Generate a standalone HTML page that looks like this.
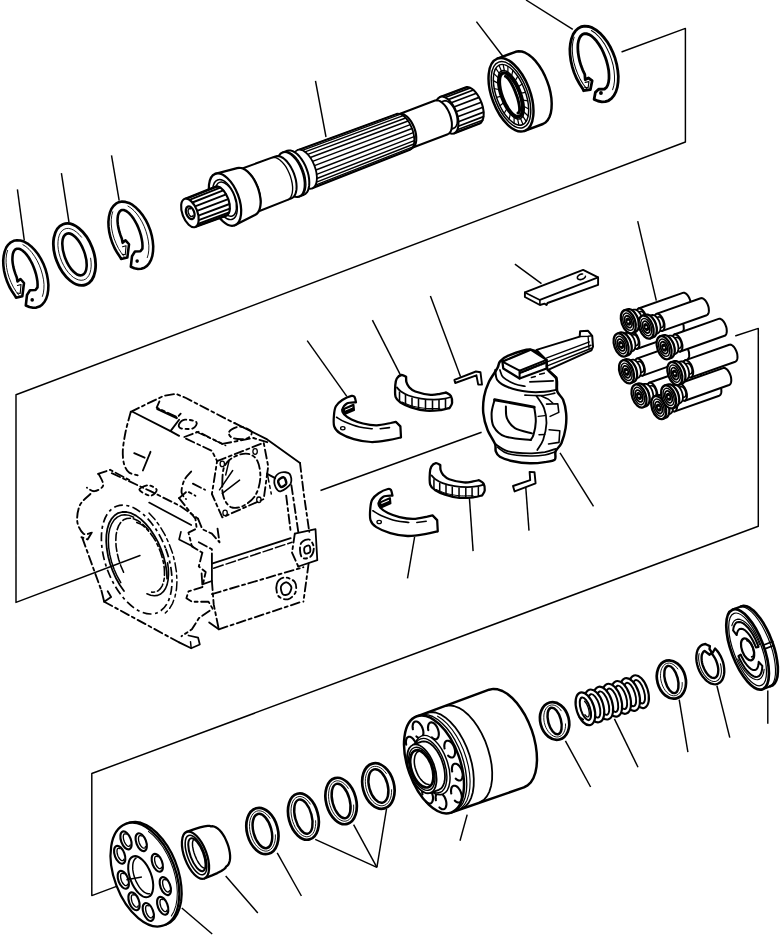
<!DOCTYPE html>
<html><head><meta charset="utf-8"><title>Pump exploded view</title>
<style>html,body{margin:0;padding:0;background:#fff;}svg{display:block;}</style>
</head><body>
<svg width="782" height="935" viewBox="0 0 782 935">
<rect width="782" height="935" fill="#fff"/>
<path d="M622.1 51.7 L685.4 28.4 L685.4 142.0 L16.0 394.8 L16.0 602.4 L140.0 555.5" fill="none" stroke="#000" stroke-width="1.46" stroke-linejoin="round" stroke-linecap="round" />
<path d="M735.8 335.7 L758.3 328.4 L758.3 526.3 L91.8 773.5 L91.8 895.6 L116.5 886.4" fill="none" stroke="#000" stroke-width="1.46" stroke-linejoin="round" stroke-linecap="round" />
<line x1="126.4" y1="879.8" x2="141.9" y2="877.0" stroke="#000" stroke-width="1.46"/>
<line x1="320.5" y1="490.5" x2="481.6" y2="432.2" stroke="#000" stroke-width="1.46"/>
<line x1="17.4" y1="189.4" x2="24.3" y2="240.3" stroke="#000" stroke-width="1.46"/>
<line x1="61.4" y1="173.2" x2="69.0" y2="222.4" stroke="#000" stroke-width="1.46"/>
<line x1="111.5" y1="155.3" x2="119.2" y2="200.6" stroke="#000" stroke-width="1.46"/>
<line x1="315.5" y1="80.9" x2="326.0" y2="137.0" stroke="#000" stroke-width="1.46"/>
<line x1="476.4" y1="21.6" x2="503.0" y2="56.5" stroke="#000" stroke-width="1.46"/>
<line x1="526.0" y1="0.0" x2="572.8" y2="29.3" stroke="#000" stroke-width="1.46"/>
<line x1="307.2" y1="340.6" x2="346.8" y2="396.4" stroke="#000" stroke-width="1.46"/>
<line x1="372.4" y1="320.2" x2="400.5" y2="375.1" stroke="#000" stroke-width="1.46"/>
<line x1="430.4" y1="296.1" x2="460.6" y2="376.7" stroke="#000" stroke-width="1.46"/>
<line x1="514.9" y1="264.1" x2="541.5" y2="283.6" stroke="#000" stroke-width="1.46"/>
<line x1="637.7" y1="221.2" x2="656.3" y2="300.6" stroke="#000" stroke-width="1.46"/>
<line x1="560.0" y1="452.8" x2="593.5" y2="506.3" stroke="#000" stroke-width="1.46"/>
<line x1="414.6" y1="537.0" x2="407.5" y2="578.4" stroke="#000" stroke-width="1.46"/>
<line x1="469.4" y1="497.7" x2="473.1" y2="551.1" stroke="#000" stroke-width="1.46"/>
<line x1="525.7" y1="486.4" x2="529.0" y2="530.6" stroke="#000" stroke-width="1.46"/>
<line x1="181.8" y1="908.0" x2="212.2" y2="934.0" stroke="#000" stroke-width="1.46"/>
<line x1="225.7" y1="875.9" x2="257.8" y2="913.0" stroke="#000" stroke-width="1.46"/>
<line x1="277.2" y1="852.8" x2="301.4" y2="896.0" stroke="#000" stroke-width="1.46"/>
<line x1="315.2" y1="839.4" x2="376.9" y2="867.3" stroke="#000" stroke-width="1.46"/>
<line x1="353.6" y1="824.7" x2="376.9" y2="867.3" stroke="#000" stroke-width="1.46"/>
<line x1="386.5" y1="809.0" x2="376.9" y2="867.3" stroke="#000" stroke-width="1.46"/>
<line x1="467.2" y1="814.6" x2="460.0" y2="840.7" stroke="#000" stroke-width="1.46"/>
<line x1="565.4" y1="740.8" x2="590.6" y2="787.0" stroke="#000" stroke-width="1.46"/>
<line x1="614.4" y1="718.9" x2="638.0" y2="767.2" stroke="#000" stroke-width="1.46"/>
<line x1="679.2" y1="699.6" x2="687.9" y2="752.1" stroke="#000" stroke-width="1.46"/>
<line x1="716.9" y1="685.7" x2="729.8" y2="737.6" stroke="#000" stroke-width="1.46"/>
<line x1="767.8" y1="690.5" x2="767.8" y2="723.7" stroke="#000" stroke-width="1.46"/>
<ellipse cx="74.5" cy="254.4" rx="19.0" ry="32.3" transform="rotate(-20.7 74.5 254.4)" fill="#fff" stroke="#000" stroke-width="2.80"/>
<ellipse cx="74.5" cy="254.4" rx="10.0" ry="22.1" transform="rotate(-20.7 74.5 254.4)" fill="none" stroke="#000" stroke-width="2.58"/>
<path d="M90.6 258.2 L91.1 262.2 L91.2 266.1 L90.8 269.6 L90.1 272.7 L88.9 275.4 L87.4 277.5 L85.6 279.1 L83.5 280.0 L81.1 280.3 L78.6 279.9 L76.0 278.9 L73.3 277.3 L70.7 275.0 L68.2 272.3 L65.8 269.1 L63.7 265.5 L61.8 261.7 L60.3 257.6 L59.1 253.5 L58.3 249.4 L57.9 245.5 L58.0 241.7 L58.4 238.3 L59.3 235.2 L60.5 232.7 L62.1 230.7 L64.1 229.3 L66.2 228.5 L68.6 228.4 L71.2 229.0 L73.8 230.2 L76.4 232.0 L79.0 234.3 L81.5 237.2" fill="none" stroke="#000" stroke-width="0.90" stroke-linejoin="round" stroke-linecap="round" />
<ellipse cx="262.4" cy="831.0" rx="15.4" ry="23.6" transform="rotate(-15.0 262.4 831.0)" fill="#fff" stroke="#000" stroke-width="2.69"/>
<ellipse cx="262.4" cy="831.0" rx="9.0" ry="17.6" transform="rotate(-15.0 262.4 831.0)" fill="none" stroke="#000" stroke-width="2.46"/>
<path d="M275.4 834.8 L275.4 837.9 L275.0 840.8 L274.4 843.4 L273.4 845.8 L272.2 847.8 L270.7 849.3 L269.0 850.4 L267.2 851.0 L265.2 851.1 L263.2 850.6 L261.1 849.7 L259.1 848.3 L257.1 846.5 L255.3 844.3 L253.7 841.7 L252.3 838.9 L251.2 835.8 L250.3 832.7 L249.7 829.5 L249.5 826.3 L249.6 823.3 L250.0 820.4 L250.8 817.8 L251.8 815.6 L253.1 813.7 L254.6 812.3 L256.3 811.3 L258.2 810.8 L260.2 810.9 L262.3 811.4 L264.3 812.5 L266.3 814.0 L268.2 815.9 L270.0 818.3" fill="none" stroke="#000" stroke-width="0.90" stroke-linejoin="round" stroke-linecap="round" />
<ellipse cx="303.4" cy="816.6" rx="14.7" ry="23.6" transform="rotate(-15.0 303.4 816.6)" fill="#fff" stroke="#000" stroke-width="2.69"/>
<ellipse cx="303.4" cy="816.6" rx="8.3" ry="17.6" transform="rotate(-15.0 303.4 816.6)" fill="none" stroke="#000" stroke-width="2.46"/>
<path d="M315.6 820.7 L315.7 823.7 L315.4 826.6 L314.8 829.3 L314.0 831.6 L312.8 833.6 L311.4 835.1 L309.9 836.1 L308.1 836.7 L306.2 836.8 L304.3 836.3 L302.3 835.4 L300.4 833.9 L298.5 832.1 L296.8 829.8 L295.2 827.3 L293.9 824.4 L292.7 821.4 L291.9 818.2 L291.3 815.0 L291.0 811.8 L291.1 808.8 L291.4 806.0 L292.1 803.4 L293.0 801.1 L294.2 799.3 L295.7 797.9 L297.3 797.0 L299.1 796.5 L301.0 796.6 L302.9 797.2 L304.9 798.3 L306.8 799.8 L308.6 801.8 L310.3 804.1" fill="none" stroke="#000" stroke-width="0.90" stroke-linejoin="round" stroke-linecap="round" />
<ellipse cx="341.1" cy="801.0" rx="15.0" ry="23.7" transform="rotate(-15.0 341.1 801.0)" fill="#fff" stroke="#000" stroke-width="2.69"/>
<ellipse cx="341.1" cy="801.0" rx="8.6" ry="17.7" transform="rotate(-15.0 341.1 801.0)" fill="none" stroke="#000" stroke-width="2.46"/>
<path d="M353.6 805.0 L353.7 808.0 L353.4 811.0 L352.8 813.6 L351.9 816.0 L350.7 817.9 L349.3 819.5 L347.6 820.5 L345.9 821.1 L343.9 821.2 L342.0 820.7 L340.0 819.8 L338.0 818.4 L336.1 816.5 L334.3 814.3 L332.7 811.7 L331.3 808.8 L330.2 805.8 L329.3 802.6 L328.8 799.4 L328.5 796.2 L328.6 793.2 L329.0 790.3 L329.6 787.7 L330.6 785.5 L331.9 783.6 L333.3 782.2 L335.0 781.3 L336.8 780.8 L338.8 780.9 L340.7 781.5 L342.7 782.5 L344.7 784.1 L346.6 786.0 L348.3 788.4" fill="none" stroke="#000" stroke-width="0.90" stroke-linejoin="round" stroke-linecap="round" />
<ellipse cx="378.4" cy="786.0" rx="15.6" ry="23.2" transform="rotate(-15.0 378.4 786.0)" fill="#fff" stroke="#000" stroke-width="2.69"/>
<ellipse cx="378.4" cy="786.0" rx="9.3" ry="17.2" transform="rotate(-15.0 378.4 786.0)" fill="none" stroke="#000" stroke-width="2.46"/>
<path d="M391.6 789.7 L391.5 792.7 L391.2 795.6 L390.5 798.2 L389.5 800.5 L388.2 802.5 L386.7 804.0 L384.9 805.1 L383.0 805.7 L381.0 805.8 L379.0 805.4 L376.9 804.5 L374.8 803.2 L372.9 801.4 L371.0 799.2 L369.4 796.7 L368.0 793.9 L366.9 791.0 L366.0 787.9 L365.5 784.7 L365.3 781.6 L365.4 778.6 L365.9 775.8 L366.7 773.3 L367.7 771.1 L369.1 769.2 L370.7 767.8 L372.4 766.8 L374.4 766.4 L376.4 766.4 L378.5 766.9 L380.6 767.9 L382.6 769.4 L384.5 771.2 L386.3 773.5" fill="none" stroke="#000" stroke-width="0.90" stroke-linejoin="round" stroke-linecap="round" />
<ellipse cx="554.6" cy="721.0" rx="14.3" ry="19.1" transform="rotate(-15.0 554.6 721.0)" fill="#fff" stroke="#000" stroke-width="2.69"/>
<ellipse cx="554.6" cy="721.0" rx="6.4" ry="13.7" transform="rotate(-15.0 554.6 721.0)" fill="none" stroke="#000" stroke-width="2.46"/>
<path d="M565.5 723.9 L565.5 726.3 L565.2 728.7 L564.6 730.8 L563.7 732.7 L562.7 734.3 L561.4 735.6 L559.9 736.4 L558.4 736.9 L556.7 737.0 L555.0 736.7 L553.2 736.0 L551.6 734.9 L549.9 733.5 L548.4 731.7 L547.1 729.7 L545.9 727.5 L545.0 725.1 L544.3 722.5 L543.9 720.0 L543.8 717.5 L543.9 715.0 L544.3 712.7 L544.9 710.7 L545.8 708.9 L546.9 707.3 L548.3 706.2 L549.8 705.4 L551.4 705.0 L553.0 705.0 L554.8 705.4 L556.5 706.2 L558.2 707.4 L559.8 708.9 L561.2 710.8" fill="none" stroke="#000" stroke-width="0.90" stroke-linejoin="round" stroke-linecap="round" />
<ellipse cx="671.4" cy="679.5" rx="14.2" ry="19.5" transform="rotate(-15.0 671.4 679.5)" fill="#fff" stroke="#000" stroke-width="2.69"/>
<ellipse cx="671.4" cy="679.5" rx="6.4" ry="14.0" transform="rotate(-15.0 671.4 679.5)" fill="none" stroke="#000" stroke-width="2.46"/>
<path d="M682.2 682.5 L682.2 685.0 L681.9 687.4 L681.3 689.5 L680.5 691.5 L679.4 693.1 L678.2 694.3 L676.7 695.2 L675.2 695.7 L673.5 695.8 L671.8 695.5 L670.0 694.8 L668.4 693.7 L666.7 692.2 L665.2 690.4 L663.9 688.3 L662.7 686.0 L661.8 683.5 L661.1 681.0 L660.6 678.4 L660.5 675.8 L660.6 673.3 L660.9 671.0 L661.6 668.8 L662.5 667.0 L663.6 665.5 L664.9 664.3 L666.4 663.5 L668.0 663.1 L669.6 663.1 L671.4 663.5 L673.1 664.4 L674.8 665.6 L676.4 667.2 L677.8 669.0" fill="none" stroke="#000" stroke-width="0.90" stroke-linejoin="round" stroke-linecap="round" />
<g transform="translate(2.20 239.20) scale(1.000 1.000) translate(-2.20 -239.20)">
<path d="M25.8 305.5 L29.4 307.0 L33.0 307.8 L36.3 307.6 L39.4 306.6 L42.1 304.7 L44.4 302.0 L46.2 298.6 L47.5 294.6 L48.2 290.0 L48.4 285.0 L47.9 279.8 L46.9 274.3 L45.4 268.9 L43.3 263.6 L40.8 258.6 L37.9 254.0 L34.6 249.9 L31.2 246.4 L27.6 243.6 L24.0 241.6 L20.4 240.5 L16.9 240.2 L13.7 240.8 L10.8 242.3 L8.3 244.6 L6.2 247.6 L4.7 251.4 L3.7 255.7 L3.2 260.5 L3.4 265.6 L4.1 271.0 L5.4 276.4 L7.2 281.8 L9.5 287.0 L12.3 291.8 L15.3 296.2 L16.0 297.8 L22.3 296.3 L24.0 283.0 L20.5 279.0 L17.5 281.5 L16.8 277.5 L15.4 273.9 L14.2 270.2 L13.3 266.6 L12.7 263.1 L12.4 259.8 L12.5 256.8 L12.8 254.2 L13.5 252.0 L14.4 250.4 L15.6 249.2 L17.0 248.7 L18.7 248.7 L20.5 249.3 L22.4 250.5 L24.4 252.2 L26.4 254.4 L28.4 257.0 L30.2 260.0 L32.0 263.3 L33.5 266.8 L34.9 270.5 L36.0 274.1 L36.8 277.8 L37.4 281.2 L37.6 284.5 L37.5 287.4 L35.5 290.0 L30.0 290.3 L27.0 295.0 Z" fill="#fff" stroke="#000" stroke-width="2.58" stroke-linejoin="round" stroke-linecap="round" />
<path d="M42.4 296.4 L43.4 292.9 L43.9 288.9 L44.0 284.5 L43.5 279.8 L42.5 274.9 L41.1 270.0 L39.3 265.2 L37.1 260.6 L34.6 256.4 L31.9 252.6 L29.0 249.3 L25.9 246.6 L22.9 244.7" fill="none" stroke="#000" stroke-width="0.90" stroke-linejoin="round" stroke-linecap="round" />
<path d="M7.6 250.4 L6.6 254.0 L6.1 258.2 L6.1 262.7 L6.6 267.6 L7.6 272.6 L9.1 277.6 L11.1 282.5 L13.4 287.2 L16.1 291.5 L18.9 295.3" fill="none" stroke="#000" stroke-width="0.90" stroke-linejoin="round" stroke-linecap="round" />
<circle cx="32.2" cy="299.9" r="1.8" fill="#000"/>
<path d="M17.5 285.5 L21.0 284.5 L20.2 293.5 L17.2 293.0" fill="none" stroke="#000" stroke-width="1.12" stroke-linejoin="round" stroke-linecap="round" />
</g>
<g transform="translate(107.40 200.60) scale(0.992 0.997) translate(-2.20 -239.20)">
<path d="M25.8 305.5 L29.4 307.0 L33.0 307.8 L36.3 307.6 L39.4 306.6 L42.1 304.7 L44.4 302.0 L46.2 298.6 L47.5 294.6 L48.2 290.0 L48.4 285.0 L47.9 279.8 L46.9 274.3 L45.4 268.9 L43.3 263.6 L40.8 258.6 L37.9 254.0 L34.6 249.9 L31.2 246.4 L27.6 243.6 L24.0 241.6 L20.4 240.5 L16.9 240.2 L13.7 240.8 L10.8 242.3 L8.3 244.6 L6.2 247.6 L4.7 251.4 L3.7 255.7 L3.2 260.5 L3.4 265.6 L4.1 271.0 L5.4 276.4 L7.2 281.8 L9.5 287.0 L12.3 291.8 L15.3 296.2 L16.0 297.8 L22.3 296.3 L24.0 283.0 L20.5 279.0 L17.5 281.5 L16.8 277.5 L15.4 273.9 L14.2 270.2 L13.3 266.6 L12.7 263.1 L12.4 259.8 L12.5 256.8 L12.8 254.2 L13.5 252.0 L14.4 250.4 L15.6 249.2 L17.0 248.7 L18.7 248.7 L20.5 249.3 L22.4 250.5 L24.4 252.2 L26.4 254.4 L28.4 257.0 L30.2 260.0 L32.0 263.3 L33.5 266.8 L34.9 270.5 L36.0 274.1 L36.8 277.8 L37.4 281.2 L37.6 284.5 L37.5 287.4 L35.5 290.0 L30.0 290.3 L27.0 295.0 Z" fill="#fff" stroke="#000" stroke-width="2.58" stroke-linejoin="round" stroke-linecap="round" />
<path d="M42.4 296.4 L43.4 292.9 L43.9 288.9 L44.0 284.5 L43.5 279.8 L42.5 274.9 L41.1 270.0 L39.3 265.2 L37.1 260.6 L34.6 256.4 L31.9 252.6 L29.0 249.3 L25.9 246.6 L22.9 244.7" fill="none" stroke="#000" stroke-width="0.90" stroke-linejoin="round" stroke-linecap="round" />
<path d="M7.6 250.4 L6.6 254.0 L6.1 258.2 L6.1 262.7 L6.6 267.6 L7.6 272.6 L9.1 277.6 L11.1 282.5 L13.4 287.2 L16.1 291.5 L18.9 295.3" fill="none" stroke="#000" stroke-width="0.90" stroke-linejoin="round" stroke-linecap="round" />
<circle cx="32.2" cy="299.9" r="1.8" fill="#000"/>
<path d="M17.5 285.5 L21.0 284.5 L20.2 293.5 L17.2 293.0" fill="none" stroke="#000" stroke-width="1.12" stroke-linejoin="round" stroke-linecap="round" />
</g>
<g transform="translate(568.80 25.00) scale(1.072 1.121) translate(-2.20 -239.20)">
<path d="M25.8 305.5 L29.4 307.0 L33.0 307.8 L36.3 307.6 L39.4 306.6 L42.1 304.7 L44.4 302.0 L46.2 298.6 L47.5 294.6 L48.2 290.0 L48.4 285.0 L47.9 279.8 L46.9 274.3 L45.4 268.9 L43.3 263.6 L40.8 258.6 L37.9 254.0 L34.6 249.9 L31.2 246.4 L27.6 243.6 L24.0 241.6 L20.4 240.5 L16.9 240.2 L13.7 240.8 L10.8 242.3 L8.3 244.6 L6.2 247.6 L4.7 251.4 L3.7 255.7 L3.2 260.5 L3.4 265.6 L4.1 271.0 L5.4 276.4 L7.2 281.8 L9.5 287.0 L12.3 291.8 L15.3 296.2 L16.0 297.8 L22.3 296.9 L24.0 288.9 L20.5 286.5 L17.5 288.0 L17.1 283.2 L15.2 279.4 L13.6 275.4 L12.3 271.3 L11.4 267.2 L10.8 263.3 L10.6 259.6 L10.7 256.2 L11.3 253.2 L12.2 250.8 L13.4 248.9 L15.0 247.6 L16.8 247.0 L18.8 247.0 L21.1 247.7 L23.4 249.0 L25.7 251.0 L28.1 253.5 L30.3 256.5 L32.5 259.9 L34.4 263.6 L36.1 267.6 L37.5 271.6 L38.6 275.7 L39.4 279.7 L39.7 283.5 L39.7 287.0 L39.3 290.2 L38.5 292.8 L37.4 294.9 L35.5 296.3 L30.0 296.5 L27.0 299.3 Z" fill="#fff" stroke="#000" stroke-width="2.58" stroke-linejoin="round" stroke-linecap="round" />
<path d="M43.1 296.9 L44.2 293.3 L44.8 289.2 L44.8 284.7 L44.4 279.9 L43.5 274.9 L42.0 269.9 L40.2 265.0 L37.9 260.4 L35.4 256.0 L32.5 252.1 L29.5 248.8 L26.4 246.1 L23.2 244.1" fill="none" stroke="#000" stroke-width="0.90" stroke-linejoin="round" stroke-linecap="round" />
<path d="M7.2 250.1 L6.1 253.8 L5.5 258.1 L5.5 262.7 L6.0 267.7 L7.0 272.8 L8.6 278.0 L10.6 283.0 L12.9 287.7 L15.7 292.1 L18.7 296.0" fill="none" stroke="#000" stroke-width="0.90" stroke-linejoin="round" stroke-linecap="round" />
<circle cx="32.2" cy="299.9" r="1.8" fill="#000"/>
<path d="M17.5 290.4 L21.0 289.8 L20.2 295.2 L17.2 294.9" fill="none" stroke="#000" stroke-width="1.12" stroke-linejoin="round" stroke-linecap="round" />
</g>
<path d="M440.1 97.0 L465.3 87.4 L465.3 87.4 L466.8 87.1 L468.4 87.3 L470.2 87.8 L472.0 88.9 L473.8 90.3 L475.5 92.1 L477.2 94.3 L478.7 96.7 L480.1 99.4 L481.3 102.2 L482.3 105.1 L483.0 108.0 L483.5 110.8 L483.7 113.6 L483.6 116.1 L483.2 118.4 L482.5 120.3 L481.6 121.9 L480.5 123.1 L479.1 123.9 L479.1 123.9 L453.9 133.5" fill="#fff" stroke="#000" stroke-width="2.02" stroke-linejoin="round" stroke-linecap="round" />
<path d="M442.1 96.7 L467.3 87.1" fill="none" stroke="#000" stroke-width="1.68" stroke-linejoin="round" stroke-linecap="round" />
<path d="M445.1 97.5 L470.3 87.9" fill="none" stroke="#000" stroke-width="1.68" stroke-linejoin="round" stroke-linecap="round" />
<path d="M448.2 99.6 L473.4 90.0" fill="none" stroke="#000" stroke-width="1.68" stroke-linejoin="round" stroke-linecap="round" />
<path d="M451.2 102.8 L476.4 93.3" fill="none" stroke="#000" stroke-width="1.68" stroke-linejoin="round" stroke-linecap="round" />
<path d="M453.9 107.0 L479.1 97.4" fill="none" stroke="#000" stroke-width="1.68" stroke-linejoin="round" stroke-linecap="round" />
<path d="M456.1 111.8 L481.3 102.2" fill="none" stroke="#000" stroke-width="1.68" stroke-linejoin="round" stroke-linecap="round" />
<path d="M457.6 116.8 L482.9 107.2" fill="none" stroke="#000" stroke-width="1.68" stroke-linejoin="round" stroke-linecap="round" />
<path d="M458.4 121.7 L483.6 112.1" fill="none" stroke="#000" stroke-width="1.68" stroke-linejoin="round" stroke-linecap="round" />
<path d="M458.3 126.2 L483.5 116.6" fill="none" stroke="#000" stroke-width="1.68" stroke-linejoin="round" stroke-linecap="round" />
<path d="M457.3 129.8 L482.6 120.2" fill="none" stroke="#000" stroke-width="1.68" stroke-linejoin="round" stroke-linecap="round" />
<path d="M455.6 132.4 L480.9 122.8" fill="none" stroke="#000" stroke-width="1.68" stroke-linejoin="round" stroke-linecap="round" />
<ellipse cx="447.0" cy="115.2" rx="9.8" ry="19.5" transform="rotate(-20.8 447.0 115.2)" fill="#fff" stroke="#000" stroke-width="2.02"/>
<path d="M435.3 104.2 L443.7 101.0 L443.7 101.0 L444.8 100.7 L446.0 100.8 L447.3 101.3 L448.7 102.1 L450.0 103.1 L451.3 104.5 L452.5 106.1 L453.7 107.9 L454.7 109.9 L455.6 112.0 L456.3 114.1 L456.9 116.3 L457.2 118.4 L457.4 120.4 L457.3 122.3 L457.0 124.0 L456.5 125.4 L455.8 126.6 L455.0 127.5 L454.0 128.1 L454.0 128.1 L445.6 131.3" fill="#fff" stroke="#000" stroke-width="1.68" stroke-linejoin="round" stroke-linecap="round" />
<ellipse cx="440.4" cy="117.7" rx="7.2" ry="14.5" transform="rotate(-20.8 440.4 117.7)" fill="#fff" stroke="#000" stroke-width="1.68"/>
<path d="M399.5 114.0 L435.0 100.5 L435.0 100.5 L436.4 100.3 L437.9 100.4 L439.5 100.9 L441.1 101.9 L442.8 103.2 L444.4 104.9 L446.0 106.9 L447.4 109.1 L448.7 111.6 L449.8 114.2 L450.7 116.9 L451.3 119.5 L451.8 122.2 L451.9 124.7 L451.8 127.0 L451.5 129.1 L450.9 130.9 L450.0 132.4 L449.0 133.5 L447.8 134.2 L447.8 134.2 L412.2 147.7" fill="#fff" stroke="#000" stroke-width="2.02" stroke-linejoin="round" stroke-linecap="round" />
<ellipse cx="405.8" cy="130.9" rx="9.0" ry="18.0" transform="rotate(-20.8 405.8 130.9)" fill="#fff" stroke="#000" stroke-width="2.02"/>
<path d="M297.6 150.1 L396.2 114.0 L396.2 114.0 L397.7 113.7 L399.3 113.8 L401.0 114.4 L402.8 115.4 L404.6 116.8 L406.3 118.6 L407.9 120.7 L409.5 123.1 L410.8 125.8 L412.0 128.5 L413.0 131.4 L413.7 134.2 L414.1 137.0 L414.3 139.7 L414.2 142.2 L413.8 144.5 L413.2 146.4 L412.3 148.0 L411.2 149.1 L409.9 149.9 L409.9 149.9 L312.2 188.4" fill="#fff" stroke="#000" stroke-width="1.79" stroke-linejoin="round" stroke-linecap="round" />
<path d="M299.8 149.7 L398.2 113.7" fill="none" stroke="#000" stroke-width="1.40" stroke-linejoin="round" stroke-linecap="round" />
<path d="M302.3 150.3 L400.7 114.2" fill="none" stroke="#000" stroke-width="1.40" stroke-linejoin="round" stroke-linecap="round" />
<path d="M305.0 151.9 L403.2 115.7" fill="none" stroke="#000" stroke-width="1.40" stroke-linejoin="round" stroke-linecap="round" />
<path d="M307.7 154.3 L405.7 118.0" fill="none" stroke="#000" stroke-width="1.40" stroke-linejoin="round" stroke-linecap="round" />
<path d="M310.3 157.5 L408.1 121.0" fill="none" stroke="#000" stroke-width="1.40" stroke-linejoin="round" stroke-linecap="round" />
<path d="M312.6 161.4 L410.3 124.6" fill="none" stroke="#000" stroke-width="1.40" stroke-linejoin="round" stroke-linecap="round" />
<path d="M314.5 165.6 L412.0 128.5" fill="none" stroke="#000" stroke-width="1.40" stroke-linejoin="round" stroke-linecap="round" />
<path d="M315.9 170.0 L413.3 132.7" fill="none" stroke="#000" stroke-width="1.40" stroke-linejoin="round" stroke-linecap="round" />
<path d="M316.7 174.4 L414.1 136.7" fill="none" stroke="#000" stroke-width="1.40" stroke-linejoin="round" stroke-linecap="round" />
<path d="M316.9 178.5 L414.3 140.6" fill="none" stroke="#000" stroke-width="1.40" stroke-linejoin="round" stroke-linecap="round" />
<path d="M316.5 182.1 L413.9 144.0" fill="none" stroke="#000" stroke-width="1.40" stroke-linejoin="round" stroke-linecap="round" />
<path d="M315.5 185.1 L413.0 146.8" fill="none" stroke="#000" stroke-width="1.40" stroke-linejoin="round" stroke-linecap="round" />
<path d="M314.0 187.2 L411.6 148.8" fill="none" stroke="#000" stroke-width="1.40" stroke-linejoin="round" stroke-linecap="round" />
<ellipse cx="304.9" cy="169.2" rx="10.2" ry="20.5" transform="rotate(-20.8 304.9 169.2)" fill="#fff" stroke="#000" stroke-width="1.79"/>
<path d="M282.5 152.6 L287.2 150.8 L287.2 150.8 L289.0 150.4 L291.0 150.6 L293.1 151.3 L295.2 152.5 L297.4 154.3 L299.5 156.5 L301.5 159.1 L303.4 162.0 L305.1 165.2 L306.5 168.6 L307.7 172.1 L308.6 175.6 L309.1 179.0 L309.3 182.3 L309.2 185.4 L308.7 188.1 L308.0 190.5 L306.9 192.4 L305.5 193.8 L303.9 194.7 L303.9 194.7 L299.2 196.5" fill="#fff" stroke="#000" stroke-width="2.02" stroke-linejoin="round" stroke-linecap="round" />
<ellipse cx="290.9" cy="174.5" rx="11.8" ry="23.5" transform="rotate(-20.8 290.9 174.5)" fill="#fff" stroke="#000" stroke-width="2.02"/>
<path d="M285.9 151.7 L287.9 151.9 L290.0 152.7 L292.2 154.1 L294.4 156.0 L296.5 158.3 L298.5 161.0 L300.3 164.1 L302.0 167.4 L303.4 170.9 L304.5 174.5 L305.3 178.0 L305.7 181.5 L305.9 184.7 L305.6 187.7 L305.1 190.3 L304.2 192.6 L303.0 194.3 L301.5 195.5" fill="none" stroke="#000" stroke-width="1.34" stroke-linejoin="round" stroke-linecap="round" />
<path d="M238.8 169.7 L275.4 156.4 L275.4 156.4 L277.1 156.0 L279.0 156.2 L281.0 156.8 L283.1 158.0 L285.2 159.7 L287.2 161.8 L289.1 164.3 L290.9 167.1 L292.5 170.2 L293.9 173.4 L295.0 176.7 L295.9 180.1 L296.4 183.4 L296.6 186.5 L296.5 189.4 L296.0 192.1 L295.3 194.3 L294.2 196.2 L292.9 197.5 L291.4 198.4 L291.4 198.4 L255.1 212.7" fill="#fff" stroke="#000" stroke-width="2.02" stroke-linejoin="round" stroke-linecap="round" />
<ellipse cx="246.9" cy="191.2" rx="11.5" ry="23.0" transform="rotate(-20.8 246.9 191.2)" fill="#fff" stroke="#000" stroke-width="2.02"/>
<path d="M272.0 157.7 L273.8 157.4 L275.8 157.7 L277.8 158.6 L279.9 160.0 L282.0 161.9 L284.0 164.2 L286.0 166.9 L287.7 170.0 L289.2 173.2 L290.5 176.6 L291.5 180.1 L292.2 183.5 L292.6 186.8 L292.6 189.9 L292.3 192.7 L291.7 195.1 L290.7 197.1 L289.5 198.7 L288.0 199.7" fill="none" stroke="#000" stroke-width="1.34" stroke-linejoin="round" stroke-linecap="round" />
<path d="M215.2 173.9 L237.1 168.2 L237.1 168.2 L239.0 167.8 L241.2 168.0 L243.4 168.8 L245.7 170.1 L248.0 171.9 L250.2 174.3 L252.4 177.0 L254.4 180.2 L256.1 183.6 L257.7 187.2 L258.9 190.9 L259.8 194.6 L260.4 198.2 L260.7 201.7 L260.5 205.0 L260.0 207.9 L259.2 210.4 L258.0 212.4 L256.6 214.0 L254.9 215.0 L254.9 215.0 L234.7 225.3" fill="#fff" stroke="#000" stroke-width="2.24" stroke-linejoin="round" stroke-linecap="round" />
<ellipse cx="225.0" cy="199.6" rx="13.8" ry="27.5" transform="rotate(-20.8 225.0 199.6)" fill="#fff" stroke="#000" stroke-width="2.24"/>
<ellipse cx="225.0" cy="199.6" rx="10.5" ry="21.0" transform="rotate(-20.8 225.0 199.6)" fill="none" stroke="#000" stroke-width="1.46"/>
<ellipse cx="225.9" cy="199.2" rx="9.0" ry="18.0" transform="rotate(-20.8 225.9 199.2)" fill="none" stroke="#000" stroke-width="1.46"/>
<path d="M184.6 198.9 L215.2 186.7 L215.2 186.7 L216.4 186.4 L217.8 186.6 L219.1 187.0 L220.6 187.8 L222.0 189.0 L223.4 190.4 L224.7 192.2 L225.9 194.1 L227.0 196.2 L228.0 198.4 L228.8 200.7 L229.3 203.0 L229.7 205.3 L229.8 207.5 L229.8 209.5 L229.5 211.3 L228.9 212.8 L228.2 214.1 L227.3 215.1 L226.3 215.7 L226.3 215.7 L195.2 226.9" fill="#fff" stroke="#000" stroke-width="2.13" stroke-linejoin="round" stroke-linecap="round" />
<path d="M186.6 198.7 L217.3 186.5" fill="none" stroke="#000" stroke-width="1.90" stroke-linejoin="round" stroke-linecap="round" />
<path d="M189.5 199.8 L220.3 187.7" fill="none" stroke="#000" stroke-width="1.90" stroke-linejoin="round" stroke-linecap="round" />
<path d="M192.4 202.5 L223.3 190.4" fill="none" stroke="#000" stroke-width="1.90" stroke-linejoin="round" stroke-linecap="round" />
<path d="M195.1 206.3 L226.1 194.3" fill="none" stroke="#000" stroke-width="1.90" stroke-linejoin="round" stroke-linecap="round" />
<path d="M197.1 210.9 L228.2 199.1" fill="none" stroke="#000" stroke-width="1.90" stroke-linejoin="round" stroke-linecap="round" />
<path d="M198.4 215.7 L229.5 204.0" fill="none" stroke="#000" stroke-width="1.90" stroke-linejoin="round" stroke-linecap="round" />
<path d="M198.7 220.1 L229.8 208.7" fill="none" stroke="#000" stroke-width="1.90" stroke-linejoin="round" stroke-linecap="round" />
<path d="M198.0 223.8 L229.1 212.5" fill="none" stroke="#000" stroke-width="1.90" stroke-linejoin="round" stroke-linecap="round" />
<path d="M196.4 226.2 L227.4 215.0" fill="none" stroke="#000" stroke-width="1.90" stroke-linejoin="round" stroke-linecap="round" />
<ellipse cx="189.9" cy="212.9" rx="7.5" ry="15.0" transform="rotate(-20.8 189.9 212.9)" fill="#fff" stroke="#000" stroke-width="2.13"/>
<ellipse cx="190.2" cy="212.8" rx="4.0" ry="6.6" transform="rotate(-20.8 190.2 212.8)" fill="none" stroke="#000" stroke-width="2.24"/>
<path d="M193.0 215.6 L192.8 216.0 L192.5 216.3 L192.2 216.5 L191.9 216.6 L191.5 216.6 L191.1 216.5 L190.7 216.3 L190.3 216.0 L189.9 215.6 L189.5 215.1 L189.2 214.6 L188.9 214.0 L188.6 213.4 L188.4 212.8 L188.2 212.1 L188.1 211.5 L188.1 210.9 L188.1 210.3 L188.3 209.8 L188.4 209.4 L188.6 209.1 L188.9 208.8 L189.2 208.7 L189.6 208.6 L190.0 208.7 L190.4 208.8" fill="none" stroke="#000" stroke-width="1.46" stroke-linejoin="round" stroke-linecap="round" />
<path d="M497.4 58.7 L515.6 51.8 L515.6 51.8 L518.6 51.2 L521.8 51.5 L525.2 52.7 L528.7 54.7 L532.3 57.6 L535.7 61.2 L539.0 65.5 L542.1 70.3 L544.8 75.6 L547.1 81.1 L549.1 86.9 L550.5 92.6 L551.4 98.3 L551.7 103.6 L551.5 108.6 L550.8 113.1 L549.5 117.0 L547.7 120.1 L545.5 122.5 L542.9 124.0 L542.9 124.0 L524.6 130.9" fill="#fff" stroke="#000" stroke-width="2.46" stroke-linejoin="round" stroke-linecap="round" />
<ellipse cx="511.0" cy="94.8" rx="19.1" ry="38.6" transform="rotate(-20.7 511.0 94.8)" fill="#fff" stroke="#000" stroke-width="2.46"/>
<ellipse cx="511.0" cy="94.8" rx="16.5" ry="35.0" transform="rotate(-20.7 511.0 94.8)" fill="none" stroke="#000" stroke-width="1.46"/>
<ellipse cx="511.0" cy="94.8" rx="14.5" ry="32.0" transform="rotate(-20.7 511.0 94.8)" fill="none" stroke="#000" stroke-width="1.46"/>
<path d="M525.5 92.3 L521.4 93.2" fill="none" stroke="#000" stroke-width="1.23" stroke-linejoin="round" stroke-linecap="round" />
<path d="M527.8 100.9 L523.3 100.1" fill="none" stroke="#000" stroke-width="1.23" stroke-linejoin="round" stroke-linecap="round" />
<path d="M528.7 109.0 L524.2 106.5" fill="none" stroke="#000" stroke-width="1.23" stroke-linejoin="round" stroke-linecap="round" />
<path d="M528.1 116.0 L524.0 112.0" fill="none" stroke="#000" stroke-width="1.23" stroke-linejoin="round" stroke-linecap="round" />
<path d="M526.2 121.3 L522.7 116.1" fill="none" stroke="#000" stroke-width="1.23" stroke-linejoin="round" stroke-linecap="round" />
<path d="M523.0 124.4 L520.6 118.5" fill="none" stroke="#000" stroke-width="1.23" stroke-linejoin="round" stroke-linecap="round" />
<path d="M518.9 125.1 L517.6 118.9" fill="none" stroke="#000" stroke-width="1.23" stroke-linejoin="round" stroke-linecap="round" />
<path d="M514.1 123.3 L514.1 117.4" fill="none" stroke="#000" stroke-width="1.23" stroke-linejoin="round" stroke-linecap="round" />
<path d="M509.1 119.3 L510.3 114.1" fill="none" stroke="#000" stroke-width="1.23" stroke-linejoin="round" stroke-linecap="round" />
<path d="M504.2 113.3 L506.6 109.2" fill="none" stroke="#000" stroke-width="1.23" stroke-linejoin="round" stroke-linecap="round" />
<path d="M499.9 105.7 L503.3 103.1" fill="none" stroke="#000" stroke-width="1.23" stroke-linejoin="round" stroke-linecap="round" />
<path d="M496.5 97.3 L500.6 96.4" fill="none" stroke="#000" stroke-width="1.23" stroke-linejoin="round" stroke-linecap="round" />
<path d="M494.2 88.7 L498.7 89.5" fill="none" stroke="#000" stroke-width="1.23" stroke-linejoin="round" stroke-linecap="round" />
<path d="M493.3 80.6 L497.8 83.1" fill="none" stroke="#000" stroke-width="1.23" stroke-linejoin="round" stroke-linecap="round" />
<path d="M493.9 73.6 L498.0 77.6" fill="none" stroke="#000" stroke-width="1.23" stroke-linejoin="round" stroke-linecap="round" />
<path d="M495.8 68.3 L499.3 73.5" fill="none" stroke="#000" stroke-width="1.23" stroke-linejoin="round" stroke-linecap="round" />
<path d="M499.0 65.2 L501.4 71.1" fill="none" stroke="#000" stroke-width="1.23" stroke-linejoin="round" stroke-linecap="round" />
<path d="M503.1 64.5 L504.4 70.7" fill="none" stroke="#000" stroke-width="1.23" stroke-linejoin="round" stroke-linecap="round" />
<path d="M507.9 66.3 L507.9 72.2" fill="none" stroke="#000" stroke-width="1.23" stroke-linejoin="round" stroke-linecap="round" />
<path d="M512.9 70.3 L511.7 75.5" fill="none" stroke="#000" stroke-width="1.23" stroke-linejoin="round" stroke-linecap="round" />
<path d="M517.8 76.3 L515.4 80.4" fill="none" stroke="#000" stroke-width="1.23" stroke-linejoin="round" stroke-linecap="round" />
<path d="M522.1 83.9 L518.7 86.5" fill="none" stroke="#000" stroke-width="1.23" stroke-linejoin="round" stroke-linecap="round" />
<ellipse cx="511.0" cy="94.8" rx="10.3" ry="25.6" transform="rotate(-20.7 511.0 94.8)" fill="none" stroke="#000" stroke-width="1.57"/>
<ellipse cx="511.0" cy="94.8" rx="8.8" ry="23.1" transform="rotate(-20.7 511.0 94.8)" fill="none" stroke="#000" stroke-width="3.36"/>
<path d="M505.4 76.3 L506.4 76.8 L507.5 77.8 L508.6 79.1 L509.9 80.9 L511.2 83.0 L512.5 85.5 L513.8 88.1 L515.0 91.0 L516.1 93.9 L517.2 96.9 L518.0 99.7 L518.7 102.5 L519.2 105.1 L519.5 107.3 L519.6 109.3 L519.5 110.9 L519.2 112.0 L518.7 112.8 L518.0 113.0" fill="none" stroke="#000" stroke-width="2.91" stroke-linejoin="round" stroke-linecap="round" />
<path d="M511.1 78.5 L512.2 79.8 L513.4 81.5 L514.7 83.5 L515.9 85.7 L517.1 88.2 L518.2 90.8 L519.2 93.5 L520.0 96.1 L520.8 98.7 L521.3 101.2 L521.7 103.5 L521.8 105.5 L521.8 107.2 L521.6 108.5 L521.1 109.5" fill="none" stroke="#000" stroke-width="1.57" stroke-linejoin="round" stroke-linecap="round" />
<path d="M125.7 824.1 L130.3 822.3 L135.3 821.8 L140.7 822.7 L146.2 825.0 L151.8 828.5 L157.2 833.2 L162.4 839.0 L167.2 845.6 L171.5 853.0 L175.1 861.0 L178.0 869.3 L180.1 877.7 L181.3 886.0 L181.7 893.9 L181.1 901.4 L179.6 908.1 L177.3 913.9 L174.3 918.6 L170.5 922.2 L166.1 924.5 L161.2 925.5" fill="#fff" stroke="#000" stroke-width="2.24" stroke-linejoin="round" stroke-linecap="round" />
<ellipse cx="144.9" cy="874.6" rx="30.5" ry="54.2" transform="rotate(-20.7 144.9 874.6)" fill="#fff" stroke="#000" stroke-width="2.24"/>
<path d="M148.4 831.3 L153.5 835.6 L158.3 840.9 L162.9 847.0 L166.9 853.9 L170.4 861.2 L173.3 869.0 L175.4 876.8 L176.8 884.7 L177.3 892.2 L177.0 899.3 L175.9 905.7 L173.9 911.4 L171.3 916.0" fill="none" stroke="#000" stroke-width="1.01" stroke-linejoin="round" stroke-linecap="round" />
<ellipse cx="140.7" cy="876.7" rx="10.6" ry="21.6" transform="rotate(-20.7 140.7 876.7)" fill="#fff" stroke="#000" stroke-width="2.02"/>
<path d="M149.5 893.7 L147.9 893.7 L146.2 893.2 L144.5 892.3 L142.7 890.9 L140.9 889.1 L139.2 886.9 L137.7 884.4 L136.2 881.7 L135.0 878.8 L134.0 875.8 L133.3 872.8 L132.8 869.9 L132.7 867.2 L132.8 864.7 L133.2 862.4 L133.9 860.6 L134.8 859.1 L136.0 858.1" fill="none" stroke="#000" stroke-width="1.46" stroke-linejoin="round" stroke-linecap="round" />
<ellipse cx="126.0" cy="840.4" rx="4.9" ry="9.4" transform="rotate(-20.7 126.0 840.4)" fill="none" stroke="#000" stroke-width="2.13"/>
<path d="M130.2 844.9 L130.0 845.5 L129.7 845.9 L129.3 846.2 L128.8 846.3 L128.3 846.3 L127.8 846.1 L127.2 845.7 L126.6 845.2 L126.1 844.6 L125.5 843.9 L125.0 843.0 L124.5 842.1 L124.1 841.1 L123.8 840.1 L123.5 839.1 L123.4 838.1 L123.3 837.2 L123.3 836.3 L123.4 835.6 L123.6 834.9 L123.8 834.4 L124.2 834.1 L124.6 833.9 L125.1 833.8 L125.6 833.9 L126.2 834.2" fill="none" stroke="#000" stroke-width="1.34" stroke-linejoin="round" stroke-linecap="round" />
<ellipse cx="141.2" cy="842.2" rx="4.9" ry="9.4" transform="rotate(-20.7 141.2 842.2)" fill="none" stroke="#000" stroke-width="2.13"/>
<path d="M145.4 846.7 L145.2 847.3 L144.9 847.7 L144.5 848.0 L144.0 848.1 L143.5 848.1 L143.0 847.9 L142.4 847.5 L141.8 847.0 L141.3 846.4 L140.7 845.7 L140.2 844.8 L139.7 843.9 L139.3 842.9 L139.0 841.9 L138.7 840.9 L138.6 839.9 L138.5 839.0 L138.5 838.1 L138.6 837.4 L138.8 836.7 L139.0 836.2 L139.4 835.9 L139.8 835.7 L140.3 835.6 L140.8 835.7 L141.4 836.0" fill="none" stroke="#000" stroke-width="1.34" stroke-linejoin="round" stroke-linecap="round" />
<ellipse cx="157.3" cy="862.8" rx="4.9" ry="9.4" transform="rotate(-20.7 157.3 862.8)" fill="none" stroke="#000" stroke-width="2.13"/>
<path d="M161.5 867.3 L161.3 867.9 L161.0 868.3 L160.6 868.6 L160.1 868.7 L159.6 868.7 L159.1 868.5 L158.5 868.1 L157.9 867.6 L157.4 867.0 L156.8 866.3 L156.3 865.4 L155.8 864.5 L155.4 863.5 L155.1 862.5 L154.8 861.5 L154.7 860.5 L154.6 859.6 L154.6 858.7 L154.7 858.0 L154.9 857.3 L155.1 856.8 L155.5 856.5 L155.9 856.3 L156.4 856.2 L156.9 856.3 L157.5 856.6" fill="none" stroke="#000" stroke-width="1.34" stroke-linejoin="round" stroke-linecap="round" />
<ellipse cx="165.3" cy="886.1" rx="4.9" ry="9.4" transform="rotate(-20.7 165.3 886.1)" fill="none" stroke="#000" stroke-width="2.13"/>
<path d="M169.5 890.6 L169.3 891.2 L169.0 891.6 L168.6 891.9 L168.1 892.0 L167.6 892.0 L167.1 891.8 L166.5 891.4 L165.9 890.9 L165.4 890.3 L164.8 889.6 L164.3 888.7 L163.8 887.8 L163.4 886.8 L163.1 885.8 L162.8 884.8 L162.7 883.8 L162.6 882.9 L162.6 882.0 L162.7 881.3 L162.9 880.6 L163.1 880.1 L163.5 879.8 L163.9 879.6 L164.4 879.5 L164.9 879.6 L165.5 879.9" fill="none" stroke="#000" stroke-width="1.34" stroke-linejoin="round" stroke-linecap="round" />
<ellipse cx="162.7" cy="905.8" rx="4.9" ry="9.4" transform="rotate(-20.7 162.7 905.8)" fill="none" stroke="#000" stroke-width="2.13"/>
<path d="M166.9 910.3 L166.7 910.9 L166.4 911.3 L166.0 911.6 L165.5 911.7 L165.0 911.7 L164.5 911.5 L163.9 911.1 L163.3 910.6 L162.8 910.0 L162.2 909.3 L161.7 908.4 L161.2 907.5 L160.8 906.5 L160.5 905.5 L160.2 904.5 L160.1 903.5 L160.0 902.6 L160.0 901.7 L160.1 901.0 L160.3 900.3 L160.5 899.8 L160.9 899.5 L161.3 899.3 L161.8 899.2 L162.3 899.3 L162.9 899.6" fill="none" stroke="#000" stroke-width="1.34" stroke-linejoin="round" stroke-linecap="round" />
<ellipse cx="148.3" cy="912.0" rx="4.9" ry="9.4" transform="rotate(-20.7 148.3 912.0)" fill="none" stroke="#000" stroke-width="2.13"/>
<path d="M152.5 916.5 L152.3 917.1 L152.0 917.5 L151.6 917.8 L151.1 917.9 L150.6 917.9 L150.1 917.7 L149.5 917.3 L148.9 916.8 L148.4 916.2 L147.8 915.5 L147.3 914.6 L146.8 913.7 L146.4 912.7 L146.1 911.7 L145.8 910.7 L145.7 909.7 L145.6 908.8 L145.6 907.9 L145.7 907.2 L145.9 906.5 L146.1 906.0 L146.5 905.7 L146.9 905.5 L147.4 905.4 L147.9 905.5 L148.5 905.8" fill="none" stroke="#000" stroke-width="1.34" stroke-linejoin="round" stroke-linecap="round" />
<ellipse cx="134.0" cy="901.3" rx="4.9" ry="9.4" transform="rotate(-20.7 134.0 901.3)" fill="none" stroke="#000" stroke-width="2.13"/>
<path d="M138.2 905.8 L138.0 906.4 L137.7 906.8 L137.3 907.1 L136.8 907.2 L136.3 907.2 L135.8 907.0 L135.2 906.6 L134.6 906.1 L134.1 905.5 L133.5 904.8 L133.0 903.9 L132.5 903.0 L132.1 902.0 L131.8 901.0 L131.5 900.0 L131.4 899.0 L131.3 898.1 L131.3 897.2 L131.4 896.5 L131.6 895.8 L131.8 895.3 L132.2 895.0 L132.6 894.8 L133.1 894.7 L133.6 894.8 L134.2 895.1" fill="none" stroke="#000" stroke-width="1.34" stroke-linejoin="round" stroke-linecap="round" />
<ellipse cx="123.3" cy="879.8" rx="4.9" ry="9.4" transform="rotate(-20.7 123.3 879.8)" fill="none" stroke="#000" stroke-width="2.13"/>
<path d="M127.5 884.3 L127.3 884.9 L127.0 885.3 L126.6 885.6 L126.1 885.7 L125.6 885.7 L125.1 885.5 L124.5 885.1 L123.9 884.6 L123.4 884.0 L122.8 883.3 L122.3 882.4 L121.8 881.5 L121.4 880.5 L121.1 879.5 L120.8 878.5 L120.7 877.5 L120.6 876.6 L120.6 875.7 L120.7 875.0 L120.9 874.3 L121.1 873.8 L121.5 873.5 L121.9 873.3 L122.4 873.2 L122.9 873.3 L123.5 873.6" fill="none" stroke="#000" stroke-width="1.34" stroke-linejoin="round" stroke-linecap="round" />
<ellipse cx="119.7" cy="854.8" rx="4.9" ry="9.4" transform="rotate(-20.7 119.7 854.8)" fill="none" stroke="#000" stroke-width="2.13"/>
<path d="M123.9 859.3 L123.7 859.9 L123.4 860.3 L123.0 860.6 L122.5 860.7 L122.0 860.7 L121.5 860.5 L120.9 860.1 L120.3 859.6 L119.8 859.0 L119.2 858.3 L118.7 857.4 L118.2 856.5 L117.8 855.5 L117.5 854.5 L117.2 853.5 L117.1 852.5 L117.0 851.6 L117.0 850.7 L117.1 850.0 L117.3 849.3 L117.5 848.8 L117.9 848.5 L118.3 848.3 L118.8 848.2 L119.3 848.3 L119.9 848.6" fill="none" stroke="#000" stroke-width="1.34" stroke-linejoin="round" stroke-linecap="round" />
<line x1="126.4" y1="879.8" x2="141.9" y2="877.0" stroke="#000" stroke-width="1.46"/>
<path d="M186.7 831.9 L186.7 831.9 L194.5 829.1 L200.0 827.4 L204.4 826.3 L207.7 825.8 L209.9 825.9 L210.9 826.5 L210.9 826.5 L212.3 826.2 L214.0 826.5 L215.7 827.2 L217.5 828.4 L219.4 830.0 L221.2 832.0 L222.9 834.4 L224.6 837.1 L226.0 840.1 L227.3 843.2 L228.4 846.3 L229.2 849.5 L229.8 852.6 L230.1 855.6 L230.1 858.3 L229.8 860.7 L229.2 862.8 L228.4 864.5 L227.3 865.8 L226.0 866.6 L226.0 866.6 L225.7 867.6 L224.1 869.1 L221.3 871.0 L217.3 873.1 L212.0 875.4 L204.3 878.5" fill="#fff" stroke="#000" stroke-width="2.24" stroke-linejoin="round" stroke-linecap="round" />
<ellipse cx="195.5" cy="855.2" rx="11.1" ry="24.9" transform="rotate(-20.7 195.5 855.2)" fill="#fff" stroke="#000" stroke-width="2.24"/>
<ellipse cx="196.0" cy="855.0" rx="8.5" ry="20.9" transform="rotate(-20.7 196.0 855.0)" fill="none" stroke="#000" stroke-width="1.57"/>
<ellipse cx="196.9" cy="854.7" rx="6.5" ry="17.4" transform="rotate(-20.7 196.9 854.7)" fill="none" stroke="#000" stroke-width="2.02"/>
<path d="M204.2 868.1 L203.3 867.8 L202.3 867.2 L201.2 866.2 L200.1 864.9 L198.9 863.3 L197.8 861.5 L196.7 859.5 L195.8 857.4 L194.9 855.2 L194.1 852.9 L193.4 850.6 L193.0 848.4 L192.6 846.4 L192.5 844.5 L192.5 842.9 L192.7 841.5 L193.1 840.4 L193.7 839.6 L194.4 839.2 L195.2 839.1" fill="none" stroke="#000" stroke-width="1.46" stroke-linejoin="round" stroke-linecap="round" />
<path d="M416.9 716.3 L489.1 689.7 L489.1 689.7 L493.3 688.9 L497.7 689.3 L502.4 691.0 L507.2 693.8 L511.9 697.7 L516.5 702.6 L520.9 708.5 L525.0 715.0 L528.5 722.1 L531.6 729.7 L534.0 737.4 L535.7 745.2 L536.7 752.8 L537.0 760.1 L536.5 766.8 L535.3 772.9 L533.4 778.1 L530.8 782.3 L527.6 785.4 L523.9 787.4 L523.9 787.4 L451.1 812.5" fill="#fff" stroke="#000" stroke-width="2.46" stroke-linejoin="round" stroke-linecap="round" />
<path d="M445.1 706.2 L449.4 705.4 L454.0 706.0 L458.8 707.8 L463.7 710.8 L468.5 715.0 L473.2 720.3 L477.6 726.5 L481.6 733.4 L485.1 740.8 L487.9 748.7 L490.1 756.7 L491.6 764.6 L492.2 772.2 L492.1 779.4 L491.1 785.9 L489.4 791.6 L487.0 796.2 L483.9 799.8 L480.2 802.1" fill="none" stroke="#000" stroke-width="1.79" stroke-linejoin="round" stroke-linecap="round" />
<path d="M426.8 712.8 L431.0 712.0 L435.6 712.5 L440.4 714.3 L445.3 717.4 L450.1 721.6 L454.8 726.8 L459.2 733.0 L463.2 739.9 L466.7 747.4 L469.6 755.2 L471.8 763.2 L473.2 771.1 L473.8 778.8 L473.7 785.9 L472.8 792.4 L471.1 798.1 L468.6 802.8 L465.5 806.3 L461.9 808.6" fill="none" stroke="#000" stroke-width="1.79" stroke-linejoin="round" stroke-linecap="round" />
<path d="M437.6 716.2 L442.5 719.5 L447.3 723.9 L451.9 729.3 L456.2 735.6 L460.1 742.6 L463.5 750.1 L466.2 758.0 L468.3 765.9 L469.6 773.8 L470.1 781.3 L469.8 788.4 L468.8 794.7 L467.0 800.2 L464.4 804.7 L461.3 808.1" fill="none" stroke="#000" stroke-width="1.12" stroke-linejoin="round" stroke-linecap="round" />
<path d="M419.7 715.3 L423.8 714.5 L428.1 714.9 L432.7 716.5 L437.4 719.3 L442.1 723.2 L446.7 728.0 L451.0 733.7 L455.0 740.2 L458.5 747.2 L461.5 754.6 L463.8 762.3 L465.5 769.9 L466.5 777.4 L466.8 784.6 L466.4 791.2 L465.2 797.2 L463.3 802.3 L460.7 806.4 L457.6 809.5 L454.0 811.5" fill="none" stroke="#000" stroke-width="1.34" stroke-linejoin="round" stroke-linecap="round" />
<ellipse cx="434.0" cy="764.4" rx="26.1" ry="51.1" transform="rotate(-19.6 434.0 764.4)" fill="#fff" stroke="#000" stroke-width="2.46"/>
<path d="M412.9 729.3 L412.7 728.0 L412.6 726.7 L412.7 725.5 L412.9 724.4 L413.2 723.4 L413.7 722.6 L414.3 722.0 L415.0 721.6 L415.7 721.5 L416.5 721.5 L417.4 721.8 L418.3 722.2 L419.1 722.9 L420.0 723.8 L420.7 724.8 L421.5 725.9 L422.1 727.2 L422.6 728.5 L423.0 729.8 L423.3 731.2 L423.4 732.5 L423.4 733.8 L423.2 734.9 L422.9 736.0 L422.5 736.8 L422.0 737.5 L421.4 738.0 L420.6 738.3 L419.9 738.3 L419.0 738.2 L418.2 737.8 L417.3 737.2 L416.4 736.5" fill="none" stroke="#000" stroke-width="2.13" stroke-linejoin="round" stroke-linecap="round" />
<path d="M428.3 730.2 L428.1 728.9 L428.0 727.6 L428.1 726.4 L428.3 725.3 L428.6 724.3 L429.1 723.5 L429.7 722.9 L430.4 722.5 L431.1 722.4 L431.9 722.4 L432.8 722.7 L433.7 723.1 L434.5 723.8 L435.4 724.7 L436.1 725.7 L436.9 726.8 L437.5 728.1 L438.0 729.4 L438.4 730.7 L438.7 732.1 L438.8 733.4 L438.8 734.7 L438.6 735.8 L438.3 736.9 L437.9 737.7 L437.4 738.4 L436.8 738.9 L436.0 739.2 L435.3 739.2 L434.4 739.1 L433.6 738.7 L432.7 738.1 L431.8 737.4" fill="none" stroke="#000" stroke-width="2.13" stroke-linejoin="round" stroke-linecap="round" />
<path d="M444.6 748.5 L444.4 747.2 L444.3 745.9 L444.4 744.7 L444.6 743.6 L444.9 742.6 L445.4 741.8 L446.0 741.2 L446.7 740.8 L447.4 740.7 L448.2 740.7 L449.1 741.0 L450.0 741.4 L450.8 742.1 L451.7 743.0 L452.4 744.0 L453.2 745.1 L453.8 746.4 L454.3 747.7 L454.7 749.0 L455.0 750.4 L455.1 751.7 L455.1 753.0 L454.9 754.1 L454.6 755.2 L454.2 756.0 L453.7 756.7 L453.1 757.2 L452.3 757.5 L451.6 757.5 L450.7 757.4 L449.9 757.0 L449.0 756.4 L448.1 755.7" fill="none" stroke="#000" stroke-width="2.13" stroke-linejoin="round" stroke-linecap="round" />
<path d="M452.2 771.5 L452.0 770.2 L451.9 768.9 L452.0 767.7 L452.2 766.6 L452.5 765.6 L453.0 764.8 L453.6 764.2 L454.3 763.8 L455.0 763.7 L455.8 763.7 L456.7 764.0 L457.6 764.4 L458.4 765.1 L459.3 766.0 L460.0 767.0 L460.8 768.1 L461.4 769.4 L461.9 770.7 L462.3 772.0 L462.6 773.4 L462.7 774.7 L462.7 776.0 L462.5 777.1 L462.2 778.2 L461.8 779.0 L461.3 779.7 L460.7 780.2 L459.9 780.5 L459.2 780.5 L458.3 780.4 L457.5 780.0 L456.6 779.4 L455.7 778.7" fill="none" stroke="#000" stroke-width="2.13" stroke-linejoin="round" stroke-linecap="round" />
<path d="M451.3 793.5 L451.1 792.2 L451.0 790.9 L451.1 789.7 L451.3 788.6 L451.6 787.6 L452.1 786.8 L452.7 786.2 L453.4 785.8 L454.1 785.7 L454.9 785.7 L455.8 786.0 L456.7 786.4 L457.5 787.1 L458.4 788.0 L459.1 789.0 L459.9 790.1 L460.5 791.4 L461.0 792.7 L461.4 794.0 L461.7 795.4 L461.8 796.7 L461.8 798.0 L461.6 799.1 L461.3 800.2 L460.9 801.0 L460.4 801.7 L459.8 802.2 L459.0 802.5 L458.3 802.5 L457.4 802.4 L456.6 802.0 L455.7 801.4 L454.8 800.7" fill="none" stroke="#000" stroke-width="2.13" stroke-linejoin="round" stroke-linecap="round" />
<path d="M435.9 800.3 L435.7 799.0 L435.6 797.7 L435.7 796.5 L435.9 795.4 L436.2 794.4 L436.7 793.6 L437.3 793.0 L438.0 792.6 L438.7 792.5 L439.5 792.5 L440.4 792.8 L441.3 793.2 L442.1 793.9 L443.0 794.8 L443.7 795.8 L444.5 796.9 L445.1 798.2 L445.6 799.5 L446.0 800.8 L446.3 802.2 L446.4 803.5 L446.4 804.8 L446.2 805.9 L445.9 807.0 L445.5 807.8 L445.0 808.5 L444.4 809.0 L443.6 809.3 L442.9 809.3 L442.0 809.2 L441.2 808.8 L440.3 808.2 L439.4 807.5" fill="none" stroke="#000" stroke-width="2.13" stroke-linejoin="round" stroke-linecap="round" />
<path d="M406.2 744.6 L406.0 743.3 L405.9 742.0 L406.0 740.8 L406.2 739.7 L406.5 738.7 L407.0 737.9 L407.6 737.3 L408.3 736.9 L409.0 736.8 L409.8 736.8 L410.7 737.1 L411.6 737.5 L412.4 738.2 L413.3 739.1 L414.0 740.1 L414.8 741.2 L415.4 742.5 L415.9 743.8 L416.3 745.1 L416.6 746.5 L416.7 747.8 L416.7 749.1 L416.5 750.2 L416.2 751.3 L415.8 752.1 L415.3 752.8 L414.7 753.3 L413.9 753.6 L413.2 753.6 L412.3 753.5 L411.5 753.1 L410.6 752.5 L409.7 751.8" fill="none" stroke="#000" stroke-width="2.13" stroke-linejoin="round" stroke-linecap="round" />
<path d="M422.5 794.5 L422.3 793.2 L422.2 791.9 L422.3 790.7 L422.5 789.6 L422.8 788.6 L423.3 787.8 L423.9 787.2 L424.6 786.8 L425.3 786.7 L426.1 786.7 L427.0 787.0 L427.9 787.4 L428.7 788.1 L429.6 789.0 L430.3 790.0 L431.1 791.1 L431.7 792.4 L432.2 793.7 L432.6 795.0 L432.9 796.4 L433.0 797.7 L433.0 799.0 L432.8 800.1 L432.5 801.2 L432.1 802.0 L431.6 802.7 L431.0 803.2 L430.2 803.5 L429.5 803.5 L428.6 803.4 L427.8 803.0 L426.9 802.4 L426.0 801.7" fill="none" stroke="#000" stroke-width="2.13" stroke-linejoin="round" stroke-linecap="round" />
<ellipse cx="432.1" cy="765.1" rx="15.5" ry="31.0" transform="rotate(-19.6 432.1 765.1)" fill="#fff" stroke="#000" stroke-width="1.46"/>
<ellipse cx="430.2" cy="765.7" rx="14.5" ry="28.5" transform="rotate(-19.6 430.2 765.7)" fill="#fff" stroke="#000" stroke-width="1.46"/>
<path d="M413.2 744.7 L421.7 741.7 L421.7 741.7 L423.7 741.3 L425.8 741.6 L428.1 742.4 L430.4 743.8 L432.7 745.7 L434.9 748.2 L437.1 751.0 L439.0 754.3 L440.8 757.8 L442.2 761.5 L443.4 765.3 L444.3 769.1 L444.8 772.8 L445.0 776.4 L444.8 779.7 L444.2 782.7 L443.3 785.2 L442.1 787.3 L440.6 788.8 L438.8 789.8 L438.8 789.8 L430.3 792.8" fill="#fff" stroke="#000" stroke-width="1.79" stroke-linejoin="round" stroke-linecap="round" />
<ellipse cx="421.8" cy="768.8" rx="12.8" ry="25.5" transform="rotate(-19.6 421.8 768.8)" fill="#fff" stroke="#000" stroke-width="1.79"/>
<ellipse cx="421.8" cy="768.8" rx="11.5" ry="22.5" transform="rotate(-19.6 421.8 768.8)" fill="none" stroke="#000" stroke-width="1.46"/>
<ellipse cx="421.8" cy="768.8" rx="10.2" ry="19.5" transform="rotate(-19.6 421.8 768.8)" fill="#fff" stroke="#000" stroke-width="2.69"/>
<path d="M429.0 784.5 L427.5 784.3 L425.9 783.7 L424.2 782.7 L422.6 781.3 L421.0 779.6 L419.5 777.6 L418.1 775.4 L417.0 772.9 L416.0 770.4 L415.2 767.7 L414.6 765.1 L414.3 762.5 L414.3 760.1 L414.6 757.8 L415.0 755.8 L415.8 754.1 L416.7 752.7 L417.9 751.7 L419.2 751.1 L420.7 750.9 L422.2 751.1" fill="none" stroke="#000" stroke-width="1.57" stroke-linejoin="round" stroke-linecap="round" />
<ellipse cx="639.1" cy="691.7" rx="8.8" ry="17.0" transform="rotate(-17.7 639.1 691.7)" fill="#fff" stroke="#000" stroke-width="2.13"/>
<ellipse cx="639.1" cy="691.7" rx="4.9" ry="12.2" transform="rotate(-17.7 639.1 691.7)" fill="none" stroke="#000" stroke-width="1.90"/>
<ellipse cx="630.2" cy="694.5" rx="8.8" ry="17.0" transform="rotate(-17.7 630.2 694.5)" fill="#fff" stroke="#000" stroke-width="2.13"/>
<ellipse cx="630.2" cy="694.5" rx="4.9" ry="12.2" transform="rotate(-17.7 630.2 694.5)" fill="none" stroke="#000" stroke-width="1.90"/>
<ellipse cx="621.2" cy="697.4" rx="8.8" ry="17.0" transform="rotate(-17.7 621.2 697.4)" fill="#fff" stroke="#000" stroke-width="2.13"/>
<ellipse cx="621.2" cy="697.4" rx="4.9" ry="12.2" transform="rotate(-17.7 621.2 697.4)" fill="none" stroke="#000" stroke-width="1.90"/>
<ellipse cx="612.3" cy="700.2" rx="8.8" ry="17.0" transform="rotate(-17.7 612.3 700.2)" fill="#fff" stroke="#000" stroke-width="2.13"/>
<ellipse cx="612.3" cy="700.2" rx="4.9" ry="12.2" transform="rotate(-17.7 612.3 700.2)" fill="none" stroke="#000" stroke-width="1.90"/>
<ellipse cx="603.3" cy="703.1" rx="8.8" ry="17.0" transform="rotate(-17.7 603.3 703.1)" fill="#fff" stroke="#000" stroke-width="2.13"/>
<ellipse cx="603.3" cy="703.1" rx="4.9" ry="12.2" transform="rotate(-17.7 603.3 703.1)" fill="none" stroke="#000" stroke-width="1.90"/>
<ellipse cx="594.4" cy="705.9" rx="8.8" ry="17.0" transform="rotate(-17.7 594.4 705.9)" fill="#fff" stroke="#000" stroke-width="2.13"/>
<ellipse cx="594.4" cy="705.9" rx="4.9" ry="12.2" transform="rotate(-17.7 594.4 705.9)" fill="none" stroke="#000" stroke-width="1.90"/>
<ellipse cx="585.4" cy="708.8" rx="8.8" ry="17.0" transform="rotate(-17.7 585.4 708.8)" fill="#fff" stroke="#000" stroke-width="2.24"/>
<ellipse cx="585.4" cy="708.8" rx="4.6" ry="11.8" transform="rotate(-17.7 585.4 708.8)" fill="#fff" stroke="#000" stroke-width="2.02"/>
<path d="M584.6 701.3 L585.2 702.0 L585.8 702.7 L586.4 703.7 L587.0 704.7 L587.5 705.9 L588.0 707.1 L588.4 708.4 L588.8 709.7 L589.0 711.0 L589.2 712.2 L589.3 713.3 L589.2 714.3 L589.1 715.2 L588.9 715.9 L588.6 716.4 L588.2 716.8 L587.7 716.9 L587.2 716.9 L586.7 716.6 L586.1 716.1 L585.5 715.5 L584.9 714.7" fill="none" stroke="#000" stroke-width="1.34" stroke-linejoin="round" stroke-linecap="round" />
<path d="M579.3 717.0 L583.2 719.5" fill="none" stroke="#000" stroke-width="1.79" stroke-linejoin="round" stroke-linecap="round" />
<path d="M715.1 648.5 L717.1 650.7 L719.0 653.3 L720.6 656.1 L722.0 659.2 L723.1 662.3 L723.8 665.6 L724.2 668.7 L724.3 671.8 L724.0 674.7 L723.3 677.3 L722.4 679.5 L721.1 681.4 L719.5 682.8 L717.7 683.8 L715.7 684.3 L713.6 684.2 L711.4 683.7 L709.2 682.6 L707.0 681.1 L704.9 679.1 L702.9 676.8 L701.1 674.1 L699.5 671.2 L698.2 668.1 L697.3 665.0 L696.6 661.7 L696.3 658.6 L696.4 655.6 L696.8 652.8 L697.5 650.3 L698.6 648.1 L700.0 646.4 L701.6 645.1 L703.5 644.3 L705.5 644.0 L706.3 644.5 L709.9 646.1 L709.5 649.0 L711.8 652.3 L709.6 654.8 L704.6 650.9 L703.7 651.5 L702.9 652.5 L702.3 653.7 L701.8 655.2 L701.6 656.9 L701.6 658.8 L701.8 660.9 L702.1 663.0 L702.7 665.1 L703.5 667.3 L704.4 669.3 L705.4 671.3 L706.6 673.0 L707.8 674.6 L709.1 675.9 L710.4 676.9 L711.7 677.6 L713.0 677.9 L714.2 678.0 L715.2 677.7 L716.2 677.0 L717.0 676.1 L717.6 674.9 L718.0 673.4 L718.2 671.6 L718.3 669.7 L718.1 667.7 L717.7 665.6 L717.1 663.4 L716.4 661.3 L715.5 659.3 L714.4 657.3 L713.3 655.6 L712.0 654.0 Z" fill="#fff" stroke="#000" stroke-width="2.35" stroke-linejoin="round" stroke-linecap="round" />
<path d="M720.4 663.7 L721.0 666.4 L721.3 669.1 L721.4 671.7 L721.1 674.1 L720.6 676.2 L719.8 678.0 L718.7 679.5 L717.4 680.6 L716.0 681.2 L714.3 681.5 L712.6 681.3 L710.8 680.6 L709.0 679.6 L707.2 678.1 L705.5 676.3 L703.9 674.2 L702.4 671.8 L701.2 669.3 L700.1 666.6 L699.4 663.8 L698.9 661.1 L698.6 658.5 L698.7 655.9 L699.1 653.6" fill="none" stroke="#000" stroke-width="1.01" stroke-linejoin="round" stroke-linecap="round" />
<path d="M741.0 606.5 L743.6 605.8 L746.5 606.3 L749.7 607.8 L753.1 610.3 L756.5 613.8 L760.0 618.1 L763.4 623.1 L766.6 628.8 L769.5 634.9 L772.1 641.4 L774.3 647.9 L776.0 654.4 L777.1 660.7 L777.8 666.6 L777.8 671.9 L777.4 676.6 L776.3 680.4 L774.7 683.3 L772.7 685.3 L770.2 686.2" fill="#fff" stroke="#000" stroke-width="2.69" stroke-linejoin="round" stroke-linecap="round" />
<path d="M732.6 609.6 L741.5 606.3" fill="none" stroke="#000" stroke-width="2.24" stroke-linejoin="round" stroke-linecap="round" />
<path d="M762.7 689.2 L771.6 685.8" fill="none" stroke="#000" stroke-width="2.24" stroke-linejoin="round" stroke-linecap="round" />
<path d="M742.0 606.7 L745.1 607.5 L748.3 609.3 L751.8 612.1 L755.3 615.9 L758.7 620.5 L762.1 625.8 L765.2 631.7 L768.1 638.0 L770.5 644.5 L772.6 651.1 L774.1 657.6 L775.1 663.8 L775.5 669.5 L775.4 674.6 L774.7 679.0 L773.4 682.6 L771.6 685.1" fill="none" stroke="#000" stroke-width="1.12" stroke-linejoin="round" stroke-linecap="round" />
<ellipse cx="747.6" cy="649.4" rx="16.2" ry="42.5" transform="rotate(-20.7 747.6 649.4)" fill="#fff" stroke="#000" stroke-width="2.69"/>
<ellipse cx="747.6" cy="649.4" rx="14.0" ry="38.5" transform="rotate(-20.7 747.6 649.4)" fill="none" stroke="#000" stroke-width="1.23"/>
<path d="M733.1 630.3 L733.6 627.4 L734.5 625.0 L735.7 623.2 L737.3 622.2 L739.1 621.9 L741.1 622.3 L743.3 623.4 L745.6 625.3 L748.0 627.7 L750.4 630.8 L752.7 634.3 L754.9 638.2 L756.8 642.5 L758.6 646.9 L755.9 647.5 L754.6 644.2 L753.1 641.0 L751.4 638.0 L749.7 635.4 L747.9 633.1 L746.1 631.2 L744.4 629.8 L742.7 629.0 L741.2 628.7 L739.8 628.9 L738.7 629.7 L737.8 631.0 L737.1 632.8 L736.7 635.1 Z" fill="none" stroke="#000" stroke-width="2.02" stroke-linejoin="round" stroke-linecap="round" />
<path d="M762.3 665.9 L762.1 669.2 L761.5 672.0 L760.6 674.2 L759.3 675.8 L757.7 676.7 L755.9 676.9 L753.9 676.4 L751.7 675.2 L749.4 673.3 L747.0 670.8 L744.7 667.8 L742.5 664.2 L740.3 660.3 L738.4 656.1 L740.7 654.5 L742.1 657.6 L743.7 660.6 L745.4 663.2 L747.2 665.5 L749.0 667.4 L750.7 668.8 L752.3 669.7 L753.9 670.1 L755.3 670.0 L756.4 669.3 L757.4 668.1 L758.1 666.4 L758.5 664.3 L758.7 661.8 Z" fill="none" stroke="#000" stroke-width="2.02" stroke-linejoin="round" stroke-linecap="round" />
<path d="M731.8 625.7 L732.8 623.0 L734.1 621.0 L735.9 619.7 L737.9 619.1 L740.1 619.4 L742.6 620.4 L745.2 622.2 L747.9 624.6 L750.5 627.8 L753.1 631.4 L755.5 635.6 L757.8 640.1 L759.7 644.8" fill="none" stroke="#000" stroke-width="1.12" stroke-linejoin="round" stroke-linecap="round" />
<path d="M764.1 669.4 L763.6 672.8 L762.6 675.6 L761.3 677.7 L759.6 679.1 L757.6 679.7 L755.4 679.5 L752.9 678.5 L750.3 676.8 L747.7 674.4 L745.0 671.3 L742.4 667.7 L740.0 663.6 L737.7 659.1" fill="none" stroke="#000" stroke-width="1.12" stroke-linejoin="round" stroke-linecap="round" />
<ellipse cx="747.6" cy="649.4" rx="5.6" ry="11.5" transform="rotate(-20.7 747.6 649.4)" fill="none" stroke="#000" stroke-width="2.24"/>
<path d="M747.0 640.7 L747.6 640.8 L748.3 641.1 L749.0 641.6 L749.7 642.3 L750.4 643.2 L751.0 644.1 L751.7 645.2 L752.3 646.4 L752.8 647.6 L753.2 648.9 L753.5 650.1 L753.7 651.4 L753.8 652.5 L753.8 653.6 L753.7 654.5 L753.5 655.4 L753.2 656.0 L752.8 656.5 L752.3 656.7 L751.7 656.8" fill="none" stroke="#000" stroke-width="1.79" stroke-linejoin="round" stroke-linecap="round" />
<path d="M763.7 645.0 L772.7 641.5" fill="none" stroke="#000" stroke-width="1.79" stroke-linejoin="round" stroke-linecap="round" />
<path d="M764.8 648.8 L773.6 645.5" fill="none" stroke="#000" stroke-width="1.79" stroke-linejoin="round" stroke-linecap="round" />
<path d="M524.9 292.4 L583.1 269.9 L598.1 277.4 L598.1 284.9 L547.5 303.0 L546.5 305.0 L544.5 303.6 L539.9 305.0 L524.9 297.0 Z" fill="#fff" stroke="#000" stroke-width="1.90" stroke-linejoin="round" stroke-linecap="round" />
<path d="M524.9 292.4 L539.9 299.9 L598.1 277.4" fill="none" stroke="#000" stroke-width="1.68" stroke-linejoin="round" stroke-linecap="round" />
<line x1="539.9" y1="299.9" x2="539.9" y2="304.8" stroke="#000" stroke-width="1.57"/>
<path d="M585.4 276.3 L585.3 276.7 L585.1 277.2 L584.7 277.6 L584.3 278.0 L583.9 278.4 L583.3 278.8 L582.7 279.1 L582.1 279.3 L581.5 279.5 L580.9 279.6 L580.2 279.6 L579.6 279.6 L579.1 279.5 L578.6 279.3 L578.2 279.1 L577.8 278.8 L577.6 278.5 L577.4 278.1 L577.4 277.7 L577.4 277.3 L577.5 276.8 L577.8 276.4 L578.1 276.0 L578.5 275.5 L579.0 275.2 L579.5 274.8 L580.1 274.5 L580.7 274.3 L581.3 274.1 L582.0 274.0 L582.6 274.0" fill="none" stroke="#000" stroke-width="1.57" stroke-linejoin="round" stroke-linecap="round" />
<path d="M454.4 379.9 L475.9 371.5 L480.5 372.3 L482.0 384.6 L478.2 384.6 L476.4 375.3 L455.2 383.0 Z" fill="#fff" stroke="#000" stroke-width="1.90" stroke-linejoin="round" stroke-linecap="round" />
<path d="M513.0 486.0 L530.2 480.2 L529.6 471.9 L534.5 472.2 L535.6 483.4 L514.6 491.4 Z" fill="#fff" stroke="#000" stroke-width="1.90" stroke-linejoin="round" stroke-linecap="round" />
<path d="M356.0 402.3 C355.8 401.4 355.2 397.9 354.5 396.8 C353.8 395.7 353.5 395.4 351.5 395.9 C349.5 396.4 344.9 398.3 342.3 400.0 C339.7 401.7 337.3 403.8 335.9 406.3 C334.5 408.8 334.3 411.5 334.0 414.9 C333.7 418.2 333.2 423.3 334.2 426.4 C335.2 429.5 336.7 431.2 340.0 433.3 C343.3 435.4 348.6 437.7 353.8 439.1 C359.0 440.6 365.2 441.8 371.0 442.0 C376.8 442.2 383.3 441.0 388.3 440.2 C393.3 439.4 398.9 437.9 401.0 437.4 L401.0 437.4 L400.4 426.4 L395.8 421.8 L390.6 423.0 L390.6 423.0 C388.3 423.4 381.4 425.2 376.8 425.3 C372.2 425.4 367.2 424.5 363.0 423.5 C358.8 422.5 354.7 421.0 351.5 419.5 C348.3 418.0 345.5 415.9 344.0 414.3 C342.5 412.7 341.8 411.5 342.3 409.7 C342.8 407.9 344.6 404.6 346.9 403.4 C349.2 402.2 354.5 402.5 356.0 402.3 Z" fill="#fff" stroke="#000" stroke-width="2.24" stroke-linejoin="round" stroke-linecap="round"/>
<path d="M342.3 409.7 L353.5 404.8 L354.0 410.0 L344.5 414.0 Z" fill="#000" stroke="#000" stroke-width="2.02" stroke-linejoin="round" stroke-linecap="round" />
<path d="M346.0 409.5 L352.0 407.0" fill="none" stroke="#000" stroke-width="1.12" stroke-linejoin="round" stroke-linecap="round" />
<path d="M345.0 410.2 L352.5 407.0" stroke="#fff" stroke-width="1.0"/>
<path d="M336.5 417.2 C337.9 418.0 340.8 420.2 344.6 421.8 C348.4 423.4 354.9 425.9 359.5 427.0 C364.1 428.1 370.1 428.4 372.2 428.7" fill="none" stroke="#000" stroke-width="1.57" stroke-linejoin="round" stroke-linecap="round"/>
<path d="M380.2 428.7 L389.5 427.6" fill="none" stroke="#000" stroke-width="1.57" stroke-linejoin="round" stroke-linecap="round"/>
<ellipse cx="342.8" cy="428.2" rx="2.2" ry="1.6" fill="none" stroke="#000" stroke-width="1.3"/>
<line x1="395.8" y1="421.8" x2="400.6" y2="427.0" stroke="#000" stroke-width="1.34"/>
<g transform="translate(369.30 488.10) scale(1.007 1.019) translate(-333.00 -395.00)">
<path d="M356.0 402.3 C355.8 401.4 355.2 397.9 354.5 396.8 C353.8 395.7 353.5 395.4 351.5 395.9 C349.5 396.4 344.9 398.3 342.3 400.0 C339.7 401.7 337.3 403.8 335.9 406.3 C334.5 408.8 334.3 411.5 334.0 414.9 C333.7 418.2 333.2 423.3 334.2 426.4 C335.2 429.5 336.7 431.2 340.0 433.3 C343.3 435.4 348.6 437.7 353.8 439.1 C359.0 440.6 365.2 441.8 371.0 442.0 C376.8 442.2 383.3 441.0 388.3 440.2 C393.3 439.4 398.9 437.9 401.0 437.4 L401.0 437.4 L400.4 426.4 L395.8 421.8 L390.6 423.0 L390.6 423.0 C388.3 423.4 381.4 425.2 376.8 425.3 C372.2 425.4 367.2 424.5 363.0 423.5 C358.8 422.5 354.7 421.0 351.5 419.5 C348.3 418.0 345.5 415.9 344.0 414.3 C342.5 412.7 341.8 411.5 342.3 409.7 C342.8 407.9 344.6 404.6 346.9 403.4 C349.2 402.2 354.5 402.5 356.0 402.3 Z" fill="#fff" stroke="#000" stroke-width="2.24" stroke-linejoin="round" stroke-linecap="round"/>
<path d="M342.3 409.7 L353.5 404.8 L354.0 410.0 L344.5 414.0 Z" fill="#000" stroke="#000" stroke-width="2.02" stroke-linejoin="round" stroke-linecap="round" />
<path d="M346.0 409.5 L352.0 407.0" fill="none" stroke="#000" stroke-width="1.12" stroke-linejoin="round" stroke-linecap="round" />
<path d="M345.0 410.2 L352.5 407.0" stroke="#fff" stroke-width="1.0"/>
<path d="M336.5 417.2 C337.9 418.0 340.8 420.2 344.6 421.8 C348.4 423.4 354.9 425.9 359.5 427.0 C364.1 428.1 370.1 428.4 372.2 428.7" fill="none" stroke="#000" stroke-width="1.57" stroke-linejoin="round" stroke-linecap="round"/>
<path d="M380.2 428.7 L389.5 427.6" fill="none" stroke="#000" stroke-width="1.57" stroke-linejoin="round" stroke-linecap="round"/>
<ellipse cx="342.8" cy="428.2" rx="2.2" ry="1.6" fill="none" stroke="#000" stroke-width="1.3"/>
<line x1="395.8" y1="421.8" x2="400.6" y2="427.0" stroke="#000" stroke-width="1.34"/>
</g>
<path d="M406.1 376.9 C405.3 376.6 403.1 374.7 401.5 375.0 C399.9 375.3 397.8 376.8 396.8 378.5 C395.8 380.2 395.5 381.9 395.3 385.0 C395.1 388.1 394.7 394.1 395.6 397.0 C396.5 399.9 397.9 400.8 400.5 402.5 C403.1 404.2 406.8 405.9 411.0 407.3 C415.2 408.7 421.0 410.2 426.0 410.6 C431.0 411.1 437.1 410.4 441.0 410.0 C444.9 409.6 448.1 408.3 449.5 408.0 L449.5 408.0 C449.9 407.2 451.9 405.0 452.1 403.0 C452.3 401.0 451.9 397.8 450.9 396.0 C449.9 394.2 446.8 393.1 446.0 392.5 L446.0 392.5 C445.0 392.7 442.6 393.4 440.0 393.8 C437.4 394.2 434.7 395.2 430.6 394.8 C426.5 394.4 418.9 392.8 415.3 391.5 C411.7 390.2 410.5 388.6 409.0 387.0 C407.5 385.4 406.9 383.7 406.4 382.0 C405.9 380.3 406.2 377.8 406.1 376.9 Z" fill="#fff" stroke="#000" stroke-width="2.35" stroke-linejoin="round" stroke-linecap="round"/>
<path d="M397.0 387.5 C397.7 388.2 399.1 390.2 401.0 391.5 C402.9 392.8 405.2 394.3 408.5 395.5 C411.8 396.7 416.8 398.0 421.0 398.7 C425.2 399.4 430.0 399.6 434.0 399.6 C438.0 399.6 442.2 399.0 445.0 398.6 C447.8 398.2 450.0 397.3 451.0 397.0" fill="none" stroke="#000" stroke-width="1.79" stroke-linejoin="round" stroke-linecap="round"/>
<line x1="399.5" y1="391.5" x2="399.5" y2="401.5" stroke="#000" stroke-width="1.57"/>
<line x1="405.5" y1="395.0" x2="405.5" y2="405.0" stroke="#000" stroke-width="1.57"/>
<line x1="412.0" y1="397.5" x2="412.0" y2="407.5" stroke="#000" stroke-width="1.57"/>
<line x1="418.5" y1="399.0" x2="418.5" y2="409.0" stroke="#000" stroke-width="1.57"/>
<line x1="425.5" y1="400.0" x2="425.5" y2="410.3" stroke="#000" stroke-width="1.57"/>
<line x1="432.5" y1="400.2" x2="432.5" y2="410.3" stroke="#000" stroke-width="1.57"/>
<line x1="439.0" y1="400.0" x2="439.0" y2="410.0" stroke="#000" stroke-width="1.57"/>
<line x1="445.5" y1="399.0" x2="445.5" y2="408.8" stroke="#000" stroke-width="1.57"/>
<path d="M402.0 402.0 C403.7 402.7 408.0 404.9 412.0 406.0 C416.0 407.1 421.3 408.1 426.0 408.5 C430.7 408.9 437.7 408.3 440.0 408.3" fill="none" stroke="#000" stroke-width="1.01" stroke-linejoin="round" stroke-linecap="round"/>
<g transform="translate(428.90 462.20) scale(0.966 0.973) translate(-394.30 -374.00)">
<path d="M406.1 376.9 C405.3 376.6 403.1 374.7 401.5 375.0 C399.9 375.3 397.8 376.8 396.8 378.5 C395.8 380.2 395.5 381.9 395.3 385.0 C395.1 388.1 394.7 394.1 395.6 397.0 C396.5 399.9 397.9 400.8 400.5 402.5 C403.1 404.2 406.8 405.9 411.0 407.3 C415.2 408.7 421.0 410.2 426.0 410.6 C431.0 411.1 437.1 410.4 441.0 410.0 C444.9 409.6 448.1 408.3 449.5 408.0 L449.5 408.0 C449.9 407.2 451.9 405.0 452.1 403.0 C452.3 401.0 451.9 397.8 450.9 396.0 C449.9 394.2 446.8 393.1 446.0 392.5 L446.0 392.5 C445.0 392.7 442.6 393.4 440.0 393.8 C437.4 394.2 434.7 395.2 430.6 394.8 C426.5 394.4 418.9 392.8 415.3 391.5 C411.7 390.2 410.5 388.6 409.0 387.0 C407.5 385.4 406.9 383.7 406.4 382.0 C405.9 380.3 406.2 377.8 406.1 376.9 Z" fill="#fff" stroke="#000" stroke-width="2.35" stroke-linejoin="round" stroke-linecap="round"/>
<path d="M397.0 387.5 C397.7 388.2 399.1 390.2 401.0 391.5 C402.9 392.8 405.2 394.3 408.5 395.5 C411.8 396.7 416.8 398.0 421.0 398.7 C425.2 399.4 430.0 399.6 434.0 399.6 C438.0 399.6 442.2 399.0 445.0 398.6 C447.8 398.2 450.0 397.3 451.0 397.0" fill="none" stroke="#000" stroke-width="1.79" stroke-linejoin="round" stroke-linecap="round"/>
<line x1="399.5" y1="391.5" x2="399.5" y2="401.5" stroke="#000" stroke-width="1.57"/>
<line x1="405.5" y1="395.0" x2="405.5" y2="405.0" stroke="#000" stroke-width="1.57"/>
<line x1="412.0" y1="397.5" x2="412.0" y2="407.5" stroke="#000" stroke-width="1.57"/>
<line x1="418.5" y1="399.0" x2="418.5" y2="409.0" stroke="#000" stroke-width="1.57"/>
<line x1="425.5" y1="400.0" x2="425.5" y2="410.3" stroke="#000" stroke-width="1.57"/>
<line x1="432.5" y1="400.2" x2="432.5" y2="410.3" stroke="#000" stroke-width="1.57"/>
<line x1="439.0" y1="400.0" x2="439.0" y2="410.0" stroke="#000" stroke-width="1.57"/>
<line x1="445.5" y1="399.0" x2="445.5" y2="408.8" stroke="#000" stroke-width="1.57"/>
<path d="M402.0 402.0 C403.7 402.7 408.0 404.9 412.0 406.0 C416.0 407.1 421.3 408.1 426.0 408.5 C430.7 408.9 437.7 408.3 440.0 408.3" fill="none" stroke="#000" stroke-width="1.01" stroke-linejoin="round" stroke-linecap="round"/>
</g>
<path d="M497.4 368.2 C495.8 371.2 491.1 377.3 489.1 381.5 C487.1 385.8 485.0 391.7 484.1 396.5 C483.3 401.2 482.8 408.1 483.3 413.1 C483.8 418.1 485.7 425.1 487.5 429.7 C489.2 434.3 493.7 440.6 495.0 443.9 C496.2 447.1 495.0 449.4 495.8 451.3 C496.5 453.3 497.3 455.2 499.9 456.7 C502.6 458.2 508.7 460.3 513.2 461.3 C517.7 462.3 525.1 463.2 529.9 463.3 C534.6 463.4 541.1 462.7 544.8 462.1 C548.6 461.6 553.2 461.3 554.8 459.7 C556.4 458.0 554.6 453.8 555.6 451.3 C556.6 448.8 560.0 446.5 561.5 443.0 C562.9 439.5 564.9 432.6 565.6 428.1 C566.3 423.6 566.5 417.3 566.1 413.1 C565.7 408.9 564.4 403.0 563.1 399.8 C561.8 396.6 558.3 394.6 557.3 391.5 C556.3 388.4 557.8 382.3 556.5 379.0 C555.1 375.8 549.6 372.7 548.2 369.9 C546.7 367.0 549.1 362.9 546.5 359.9 C543.9 356.9 536.4 350.2 530.7 349.6 C525.0 349.0 512.9 353.9 508.3 355.7 C503.6 357.5 501.6 359.7 499.9 361.6 C498.3 363.4 499.1 365.2 497.4 368.2 Z" fill="#fff" stroke="#000" stroke-width="2.46" stroke-linejoin="round" stroke-linecap="round"/>
<path d="M536.5 349.9 L579.7 336.6 L580.1 331.3 L588.1 330.8 L592.2 335.8 L593.0 346.6 L591.4 350.3 L547.5 370.2 L546.5 359.9 Z" fill="#fff" stroke="#000" stroke-width="2.02" stroke-linejoin="round" stroke-linecap="round" />
<path d="M579.7 336.6 L588.1 336.3 L592.2 335.8" fill="none" stroke="#000" stroke-width="1.46" stroke-linejoin="round" stroke-linecap="round" />
<path d="M588.1 336.3 L589.0 348.3" fill="none" stroke="#000" stroke-width="1.34" stroke-linejoin="round" stroke-linecap="round" />
<path d="M546.8 357.9 L589.4 341.9" fill="none" stroke="#000" stroke-width="1.46" stroke-linejoin="round" stroke-linecap="round" />
<path d="M547.2 361.9 L591.0 345.3" fill="none" stroke="#000" stroke-width="1.46" stroke-linejoin="round" stroke-linecap="round" />
<path d="M547.3 365.9 L591.4 348.3" fill="none" stroke="#000" stroke-width="1.46" stroke-linejoin="round" stroke-linecap="round" />
<path d="M502.4 361.6 L530.7 349.6 L546.5 359.9 L546.5 368.5 L519.6 378.5 L503.3 368.5 Z" fill="#fff" stroke="#000" stroke-width="2.24" stroke-linejoin="round" stroke-linecap="round" />
<path d="M502.4 361.6 L519.6 370.7 L546.5 359.9" fill="none" stroke="#000" stroke-width="2.02" stroke-linejoin="round" stroke-linecap="round" />
<path d="M519.6 370.7 L519.6 378.5" fill="none" stroke="#000" stroke-width="2.02" stroke-linejoin="round" stroke-linecap="round" />
<path d="M519.9 372.9 L546.5 362.2" fill="none" stroke="#000" stroke-width="2.46" stroke-dasharray="1.2 1.6" stroke-linejoin="round" stroke-linecap="round" />
<path d="M495.3 369.9 C495.6 371.6 495.3 377.3 497.4 380.2 C499.6 383.1 503.1 385.4 508.3 387.3 C513.4 389.3 522.1 391.1 528.2 391.8 C534.3 392.6 540.1 392.2 544.8 391.8 C549.5 391.5 554.5 390.2 556.5 389.8" fill="none" stroke="#000" stroke-width="2.02" stroke-linejoin="round" stroke-linecap="round"/>
<path d="M499.9 369.9 C500.5 371.1 500.8 375.0 503.3 377.4 C505.8 379.7 511.3 382.5 514.9 384.0 C518.5 385.5 523.2 385.8 524.9 386.2" fill="none" stroke="#000" stroke-width="1.68" stroke-linejoin="round" stroke-linecap="round"/>
<path d="M529.9 381.8 L553.1 380.8" fill="none" stroke="#000" stroke-width="1.79" stroke-linejoin="round" stroke-linecap="round" />
<path d="M531.5 377.5 L535.2 376.5" fill="none" stroke="#000" stroke-width="1.68" stroke-linejoin="round" stroke-linecap="round" />
<path d="M539.8 374.2 L544.2 373.2" fill="none" stroke="#000" stroke-width="1.68" stroke-linejoin="round" stroke-linecap="round" />
<path d="M548.2 370.2 L556.5 377.5 L556.5 389.8" fill="none" stroke="#000" stroke-width="2.24" stroke-linejoin="round" stroke-linecap="round" />
<path d="M524.9 395.1 C527.6 395.2 536.5 396.0 541.5 395.6 C546.5 395.3 552.6 393.6 554.8 393.2" fill="none" stroke="#000" stroke-width="1.68" stroke-linejoin="round" stroke-linecap="round"/>
<path d="M494.6 399.8 C494.1 402.0 491.8 408.7 491.6 413.1 C491.5 417.5 491.4 422.5 493.6 426.4 C495.8 430.3 498.7 434.1 504.9 436.4 C511.1 438.6 526.4 439.4 530.7 440.0" fill="none" stroke="#000" stroke-width="2.02" stroke-linejoin="round" stroke-linecap="round"/>
<path d="M530.7 440.0 C531.2 439.1 532.7 437.8 533.5 434.7 C534.4 431.6 535.7 426.0 535.8 421.4 C536.0 416.8 534.5 409.5 534.2 407.1" fill="none" stroke="#000" stroke-width="2.02" stroke-linejoin="round" stroke-linecap="round"/>
<path d="M494.6 399.8 L534.2 407.1" fill="none" stroke="#000" stroke-width="2.91" stroke-linejoin="round" stroke-linecap="round" />
<path d="M505.9 406.5 C506.1 408.4 505.4 414.5 506.9 418.1 C508.4 421.7 510.7 425.5 514.9 428.1 C519.1 430.6 529.0 432.5 531.9 433.4" fill="none" stroke="#000" stroke-width="2.02" stroke-linejoin="round" stroke-linecap="round"/>
<path d="M536.5 396.1 C537.8 398.1 542.3 403.6 544.0 408.1 C545.7 412.6 546.6 417.8 546.5 423.1 C546.3 428.3 544.7 435.2 543.2 439.7 C541.6 444.2 538.3 448.3 537.3 450.0" fill="none" stroke="#000" stroke-width="1.79" stroke-linejoin="round" stroke-linecap="round"/>
<path d="M541.5 396.1 C542.6 396.6 546.3 398.0 548.2 399.1 C550.0 400.3 552.0 402.5 552.8 403.1" fill="none" stroke="#000" stroke-width="1.46" stroke-linejoin="round" stroke-linecap="round"/>
<path d="M546.5 404.1 L557.8 403.8 L558.8 412.4 L550.1 416.4" fill="none" stroke="#000" stroke-width="1.57" stroke-linejoin="round" stroke-linecap="round" />
<path d="M549.1 429.7 L559.8 430.7 L559.0 442.4 L548.5 444.0" fill="none" stroke="#000" stroke-width="1.57" stroke-linejoin="round" stroke-linecap="round" />
<path d="M538.2 416.4 L544.8 415.6" fill="none" stroke="#000" stroke-width="1.46" stroke-linejoin="round" stroke-linecap="round" />
<path d="M539.0 434.7 L544.8 434.4" fill="none" stroke="#000" stroke-width="1.46" stroke-linejoin="round" stroke-linecap="round" />
<path d="M495.0 443.9 C497.2 445.1 502.4 449.8 508.3 451.3 C514.1 452.9 523.8 453.2 529.9 453.3 C536.0 453.5 540.5 452.9 544.8 452.2 C549.1 451.4 553.8 449.4 555.6 448.8" fill="none" stroke="#000" stroke-width="1.79" stroke-linejoin="round" stroke-linecap="round"/>
<path d="M497.4 447.2 C499.2 448.3 502.8 452.4 508.3 453.8 C513.7 455.3 523.8 455.8 529.9 456.0 C536.0 456.2 540.5 455.7 544.8 455.0 C549.1 454.3 553.8 452.2 555.6 451.7" fill="none" stroke="#000" stroke-width="1.46" stroke-linejoin="round" stroke-linecap="round"/>
<path d="M636.7 358.6 L681.0 343.0 L681.0 343.0 L681.7 342.8 L682.5 342.9 L683.3 343.2 L684.1 343.7 L684.9 344.4 L685.7 345.2 L686.4 346.2 L687.1 347.4 L687.7 348.6 L688.2 349.9 L688.7 351.3 L689.0 352.6 L689.1 354.0 L689.2 355.2 L689.1 356.4 L688.9 357.4 L688.6 358.3 L688.2 359.0 L687.6 359.6 L687.0 359.9 L687.0 359.9 L642.7 375.6" fill="#fff" stroke="#000" stroke-width="2.02" stroke-linejoin="round" stroke-linecap="round" />
<ellipse cx="639.7" cy="367.1" rx="4.5" ry="9.0" transform="rotate(-19.5 639.7 367.1)" fill="#fff" stroke="#000" stroke-width="2.02"/>
<path d="M632.2 363.9 L638.8 361.6 L638.8 361.6 L639.2 361.5 L639.7 361.6 L640.2 361.8 L640.7 362.1 L641.2 362.5 L641.7 363.0 L642.1 363.6 L642.5 364.3 L642.9 365.1 L643.2 365.9 L643.5 366.7 L643.7 367.5 L643.8 368.3 L643.8 369.1 L643.8 369.8 L643.6 370.4 L643.5 371.0 L643.2 371.4 L642.9 371.8 L642.5 372.0 L642.5 372.0 L635.9 374.3" fill="#fff" stroke="#000" stroke-width="1.57" stroke-linejoin="round" stroke-linecap="round" />
<ellipse cx="634.0" cy="369.1" rx="2.8" ry="5.5" transform="rotate(-19.5 634.0 369.1)" fill="#fff" stroke="#000" stroke-width="1.57"/>
<path d="M627.3 360.7 L631.8 359.8 L631.8 359.8 L632.6 359.7 L633.5 359.7 L634.4 360.0 L635.3 360.5 L636.2 361.2 L637.1 362.1 L637.9 363.2 L638.7 364.4 L639.4 365.7 L639.9 367.1 L640.3 368.5 L640.6 369.9 L640.8 371.3 L640.8 372.6 L640.7 373.9 L640.4 375.0 L640.0 376.0 L639.5 376.8 L638.9 377.4 L638.2 377.8 L638.2 377.8 L634.1 379.9" fill="#fff" stroke="#000" stroke-width="1.79" stroke-linejoin="round" stroke-linecap="round" />
<ellipse cx="630.7" cy="370.3" rx="5.6" ry="10.2" transform="rotate(-19.5 630.7 370.3)" fill="#fff" stroke="#000" stroke-width="1.79"/>
<path d="M622.5 360.5 L625.5 359.4 L625.5 359.4 L626.6 359.2 L627.7 359.3 L628.9 359.6 L630.1 360.2 L631.2 361.1 L632.4 362.2 L633.4 363.6 L634.4 365.1 L635.3 366.7 L636.0 368.4 L636.5 370.2 L636.9 372.1 L637.1 373.8 L637.1 375.5 L636.9 377.1 L636.5 378.5 L636.0 379.8 L635.3 380.8 L634.5 381.5 L633.5 382.0 L633.5 382.0 L630.5 383.1" fill="#fff" stroke="#000" stroke-width="2.24" stroke-linejoin="round" stroke-linecap="round" />
<ellipse cx="626.5" cy="371.8" rx="6.8" ry="12.0" transform="rotate(-19.5 626.5 371.8)" fill="#fff" stroke="#000" stroke-width="2.24"/>
<ellipse cx="626.5" cy="371.8" rx="5.0" ry="9.0" transform="rotate(-19.5 626.5 371.8)" fill="none" stroke="#000" stroke-width="1.46"/>
<ellipse cx="626.5" cy="371.8" rx="3.4" ry="6.2" transform="rotate(-19.5 626.5 371.8)" fill="none" stroke="#000" stroke-width="1.79"/>
<ellipse cx="626.5" cy="371.8" rx="1.9" ry="3.4" transform="rotate(-19.5 626.5 371.8)" fill="#000" stroke="#000" stroke-width="1.57"/>
<circle cx="626.5" cy="371.8" r="0.9" fill="#fff"/>
<path d="M649.2 382.8 L693.5 367.2 L693.5 367.2 L694.2 367.0 L695.0 367.1 L695.8 367.4 L696.6 367.9 L697.4 368.6 L698.2 369.4 L698.9 370.4 L699.6 371.6 L700.2 372.8 L700.7 374.1 L701.2 375.5 L701.5 376.8 L701.6 378.2 L701.7 379.4 L701.6 380.6 L701.4 381.6 L701.1 382.5 L700.7 383.2 L700.1 383.8 L699.5 384.1 L699.5 384.1 L655.2 399.8" fill="#fff" stroke="#000" stroke-width="2.02" stroke-linejoin="round" stroke-linecap="round" />
<ellipse cx="652.2" cy="391.3" rx="4.5" ry="9.0" transform="rotate(-19.5 652.2 391.3)" fill="#fff" stroke="#000" stroke-width="2.02"/>
<path d="M644.7 388.1 L651.3 385.8 L651.3 385.8 L651.7 385.7 L652.2 385.8 L652.7 386.0 L653.2 386.3 L653.7 386.7 L654.2 387.2 L654.6 387.8 L655.0 388.5 L655.4 389.3 L655.7 390.1 L656.0 390.9 L656.2 391.7 L656.3 392.5 L656.3 393.3 L656.3 394.0 L656.1 394.6 L656.0 395.2 L655.7 395.6 L655.4 396.0 L655.0 396.2 L655.0 396.2 L648.4 398.5" fill="#fff" stroke="#000" stroke-width="1.57" stroke-linejoin="round" stroke-linecap="round" />
<ellipse cx="646.5" cy="393.3" rx="2.8" ry="5.5" transform="rotate(-19.5 646.5 393.3)" fill="#fff" stroke="#000" stroke-width="1.57"/>
<path d="M639.8 384.9 L644.3 384.0 L644.3 384.0 L645.1 383.9 L646.0 383.9 L646.9 384.2 L647.8 384.7 L648.7 385.4 L649.6 386.3 L650.4 387.4 L651.2 388.6 L651.9 389.9 L652.4 391.3 L652.8 392.7 L653.1 394.1 L653.3 395.5 L653.3 396.8 L653.2 398.1 L652.9 399.2 L652.5 400.2 L652.0 401.0 L651.4 401.6 L650.7 402.0 L650.7 402.0 L646.6 404.1" fill="#fff" stroke="#000" stroke-width="1.79" stroke-linejoin="round" stroke-linecap="round" />
<ellipse cx="643.2" cy="394.5" rx="5.6" ry="10.2" transform="rotate(-19.5 643.2 394.5)" fill="#fff" stroke="#000" stroke-width="1.79"/>
<path d="M635.0 384.7 L638.0 383.6 L638.0 383.6 L639.1 383.4 L640.2 383.5 L641.4 383.8 L642.6 384.4 L643.7 385.3 L644.9 386.4 L645.9 387.8 L646.9 389.3 L647.8 390.9 L648.5 392.6 L649.0 394.4 L649.4 396.3 L649.6 398.0 L649.6 399.7 L649.4 401.3 L649.0 402.7 L648.5 404.0 L647.8 405.0 L647.0 405.7 L646.0 406.2 L646.0 406.2 L643.0 407.3" fill="#fff" stroke="#000" stroke-width="2.24" stroke-linejoin="round" stroke-linecap="round" />
<ellipse cx="639.0" cy="396.0" rx="6.8" ry="12.0" transform="rotate(-19.5 639.0 396.0)" fill="#fff" stroke="#000" stroke-width="2.24"/>
<ellipse cx="639.0" cy="396.0" rx="5.0" ry="9.0" transform="rotate(-19.5 639.0 396.0)" fill="none" stroke="#000" stroke-width="1.46"/>
<ellipse cx="639.0" cy="396.0" rx="3.4" ry="6.2" transform="rotate(-19.5 639.0 396.0)" fill="none" stroke="#000" stroke-width="1.79"/>
<ellipse cx="639.0" cy="396.0" rx="1.9" ry="3.4" transform="rotate(-19.5 639.0 396.0)" fill="#000" stroke="#000" stroke-width="1.57"/>
<circle cx="639.0" cy="396.0" r="0.9" fill="#fff"/>
<path d="M631.3 331.8 L675.6 316.2 L675.6 316.2 L676.3 316.0 L677.1 316.1 L677.9 316.4 L678.7 316.9 L679.5 317.6 L680.3 318.4 L681.0 319.4 L681.7 320.6 L682.3 321.8 L682.8 323.1 L683.3 324.5 L683.6 325.8 L683.7 327.2 L683.8 328.4 L683.7 329.6 L683.5 330.6 L683.2 331.5 L682.8 332.2 L682.2 332.8 L681.6 333.1 L681.6 333.1 L637.3 348.8" fill="#fff" stroke="#000" stroke-width="2.02" stroke-linejoin="round" stroke-linecap="round" />
<ellipse cx="634.3" cy="340.3" rx="4.5" ry="9.0" transform="rotate(-19.5 634.3 340.3)" fill="#fff" stroke="#000" stroke-width="2.02"/>
<path d="M626.8 337.1 L633.4 334.8 L633.4 334.8 L633.8 334.7 L634.3 334.8 L634.8 335.0 L635.3 335.3 L635.8 335.7 L636.3 336.2 L636.7 336.8 L637.1 337.5 L637.5 338.3 L637.8 339.1 L638.1 339.9 L638.3 340.7 L638.4 341.5 L638.4 342.3 L638.4 343.0 L638.2 343.6 L638.1 344.2 L637.8 344.6 L637.5 345.0 L637.1 345.2 L637.1 345.2 L630.5 347.5" fill="#fff" stroke="#000" stroke-width="1.57" stroke-linejoin="round" stroke-linecap="round" />
<ellipse cx="628.6" cy="342.3" rx="2.8" ry="5.5" transform="rotate(-19.5 628.6 342.3)" fill="#fff" stroke="#000" stroke-width="1.57"/>
<path d="M621.9 333.9 L626.4 333.0 L626.4 333.0 L627.2 332.9 L628.1 332.9 L629.0 333.2 L629.9 333.7 L630.8 334.4 L631.7 335.3 L632.5 336.4 L633.3 337.6 L634.0 338.9 L634.5 340.3 L634.9 341.7 L635.2 343.1 L635.4 344.5 L635.4 345.8 L635.3 347.1 L635.0 348.2 L634.6 349.2 L634.1 350.0 L633.5 350.6 L632.8 351.0 L632.8 351.0 L628.7 353.1" fill="#fff" stroke="#000" stroke-width="1.79" stroke-linejoin="round" stroke-linecap="round" />
<ellipse cx="625.3" cy="343.5" rx="5.6" ry="10.2" transform="rotate(-19.5 625.3 343.5)" fill="#fff" stroke="#000" stroke-width="1.79"/>
<path d="M617.1 333.7 L620.1 332.6 L620.1 332.6 L621.2 332.4 L622.3 332.5 L623.5 332.8 L624.7 333.4 L625.8 334.3 L627.0 335.4 L628.0 336.8 L629.0 338.3 L629.9 339.9 L630.6 341.6 L631.1 343.4 L631.5 345.3 L631.7 347.0 L631.7 348.7 L631.5 350.3 L631.1 351.7 L630.6 353.0 L629.9 354.0 L629.1 354.7 L628.1 355.2 L628.1 355.2 L625.1 356.3" fill="#fff" stroke="#000" stroke-width="2.24" stroke-linejoin="round" stroke-linecap="round" />
<ellipse cx="621.1" cy="345.0" rx="6.8" ry="12.0" transform="rotate(-19.5 621.1 345.0)" fill="#fff" stroke="#000" stroke-width="2.24"/>
<ellipse cx="621.1" cy="345.0" rx="5.0" ry="9.0" transform="rotate(-19.5 621.1 345.0)" fill="none" stroke="#000" stroke-width="1.46"/>
<ellipse cx="621.1" cy="345.0" rx="3.4" ry="6.2" transform="rotate(-19.5 621.1 345.0)" fill="none" stroke="#000" stroke-width="1.79"/>
<ellipse cx="621.1" cy="345.0" rx="1.9" ry="3.4" transform="rotate(-19.5 621.1 345.0)" fill="#000" stroke="#000" stroke-width="1.57"/>
<circle cx="621.1" cy="345.0" r="0.9" fill="#fff"/>
<path d="M668.9 394.4 L713.2 378.8 L713.2 378.8 L713.9 378.6 L714.7 378.7 L715.5 379.0 L716.3 379.5 L717.1 380.2 L717.9 381.0 L718.6 382.0 L719.3 383.2 L719.9 384.4 L720.4 385.7 L720.9 387.1 L721.2 388.4 L721.3 389.8 L721.4 391.0 L721.3 392.2 L721.1 393.2 L720.8 394.1 L720.4 394.8 L719.8 395.4 L719.2 395.7 L719.2 395.7 L674.9 411.4" fill="#fff" stroke="#000" stroke-width="2.02" stroke-linejoin="round" stroke-linecap="round" />
<ellipse cx="671.9" cy="402.9" rx="4.5" ry="9.0" transform="rotate(-19.5 671.9 402.9)" fill="#fff" stroke="#000" stroke-width="2.02"/>
<path d="M664.4 399.7 L671.0 397.4 L671.0 397.4 L671.4 397.3 L671.9 397.4 L672.4 397.6 L672.9 397.9 L673.4 398.3 L673.9 398.8 L674.3 399.4 L674.7 400.1 L675.1 400.9 L675.4 401.7 L675.7 402.5 L675.9 403.3 L676.0 404.1 L676.0 404.9 L676.0 405.6 L675.8 406.2 L675.7 406.8 L675.4 407.2 L675.1 407.6 L674.7 407.8 L674.7 407.8 L668.1 410.1" fill="#fff" stroke="#000" stroke-width="1.57" stroke-linejoin="round" stroke-linecap="round" />
<ellipse cx="666.2" cy="404.9" rx="2.8" ry="5.5" transform="rotate(-19.5 666.2 404.9)" fill="#fff" stroke="#000" stroke-width="1.57"/>
<path d="M659.5 396.5 L664.0 395.6 L664.0 395.6 L664.8 395.5 L665.7 395.5 L666.6 395.8 L667.5 396.3 L668.4 397.0 L669.3 397.9 L670.1 399.0 L670.9 400.2 L671.6 401.5 L672.1 402.9 L672.5 404.3 L672.8 405.7 L673.0 407.1 L673.0 408.4 L672.9 409.7 L672.6 410.8 L672.2 411.8 L671.7 412.6 L671.1 413.2 L670.4 413.6 L670.4 413.6 L666.3 415.7" fill="#fff" stroke="#000" stroke-width="1.79" stroke-linejoin="round" stroke-linecap="round" />
<ellipse cx="662.9" cy="406.1" rx="5.6" ry="10.2" transform="rotate(-19.5 662.9 406.1)" fill="#fff" stroke="#000" stroke-width="1.79"/>
<path d="M654.7 396.3 L657.7 395.2 L657.7 395.2 L658.8 395.0 L659.9 395.1 L661.1 395.4 L662.3 396.0 L663.4 396.9 L664.6 398.0 L665.6 399.4 L666.6 400.9 L667.5 402.5 L668.2 404.2 L668.7 406.0 L669.1 407.9 L669.3 409.6 L669.3 411.3 L669.1 412.9 L668.7 414.3 L668.2 415.6 L667.5 416.6 L666.7 417.3 L665.7 417.8 L665.7 417.8 L662.7 418.9" fill="#fff" stroke="#000" stroke-width="2.24" stroke-linejoin="round" stroke-linecap="round" />
<ellipse cx="658.7" cy="407.6" rx="6.8" ry="12.0" transform="rotate(-19.5 658.7 407.6)" fill="#fff" stroke="#000" stroke-width="2.24"/>
<ellipse cx="658.7" cy="407.6" rx="5.0" ry="9.0" transform="rotate(-19.5 658.7 407.6)" fill="none" stroke="#000" stroke-width="1.46"/>
<ellipse cx="658.7" cy="407.6" rx="3.4" ry="6.2" transform="rotate(-19.5 658.7 407.6)" fill="none" stroke="#000" stroke-width="1.79"/>
<ellipse cx="658.7" cy="407.6" rx="1.9" ry="3.4" transform="rotate(-19.5 658.7 407.6)" fill="#000" stroke="#000" stroke-width="1.57"/>
<circle cx="658.7" cy="407.6" r="0.9" fill="#fff"/>
<path d="M638.5 308.5 L682.8 292.9 L682.8 292.9 L683.5 292.7 L684.3 292.8 L685.1 293.1 L685.9 293.6 L686.7 294.3 L687.5 295.1 L688.2 296.1 L688.9 297.3 L689.5 298.5 L690.0 299.8 L690.5 301.2 L690.8 302.5 L690.9 303.9 L691.0 305.1 L690.9 306.3 L690.7 307.3 L690.4 308.2 L690.0 308.9 L689.4 309.5 L688.8 309.8 L688.8 309.8 L644.5 325.5" fill="#fff" stroke="#000" stroke-width="2.02" stroke-linejoin="round" stroke-linecap="round" />
<ellipse cx="641.5" cy="317.0" rx="4.5" ry="9.0" transform="rotate(-19.5 641.5 317.0)" fill="#fff" stroke="#000" stroke-width="2.02"/>
<path d="M634.0 313.8 L640.6 311.5 L640.6 311.5 L641.0 311.4 L641.5 311.5 L642.0 311.7 L642.5 312.0 L643.0 312.4 L643.5 312.9 L643.9 313.5 L644.3 314.2 L644.7 315.0 L645.0 315.8 L645.3 316.6 L645.5 317.4 L645.6 318.2 L645.6 319.0 L645.6 319.7 L645.4 320.3 L645.3 320.9 L645.0 321.3 L644.7 321.7 L644.3 321.9 L644.3 321.9 L637.7 324.2" fill="#fff" stroke="#000" stroke-width="1.57" stroke-linejoin="round" stroke-linecap="round" />
<ellipse cx="635.8" cy="319.0" rx="2.8" ry="5.5" transform="rotate(-19.5 635.8 319.0)" fill="#fff" stroke="#000" stroke-width="1.57"/>
<path d="M629.1 310.6 L633.6 309.7 L633.6 309.7 L634.4 309.6 L635.3 309.6 L636.2 309.9 L637.1 310.4 L638.0 311.1 L638.9 312.0 L639.7 313.1 L640.5 314.3 L641.2 315.6 L641.7 317.0 L642.1 318.4 L642.4 319.8 L642.6 321.2 L642.6 322.5 L642.5 323.8 L642.2 324.9 L641.8 325.9 L641.3 326.7 L640.7 327.3 L640.0 327.7 L640.0 327.7 L635.9 329.8" fill="#fff" stroke="#000" stroke-width="1.79" stroke-linejoin="round" stroke-linecap="round" />
<ellipse cx="632.5" cy="320.2" rx="5.6" ry="10.2" transform="rotate(-19.5 632.5 320.2)" fill="#fff" stroke="#000" stroke-width="1.79"/>
<path d="M624.3 310.4 L627.3 309.3 L627.3 309.3 L628.4 309.1 L629.5 309.2 L630.7 309.5 L631.9 310.1 L633.0 311.0 L634.2 312.1 L635.2 313.5 L636.2 315.0 L637.1 316.6 L637.8 318.3 L638.3 320.1 L638.7 322.0 L638.9 323.7 L638.9 325.4 L638.7 327.0 L638.3 328.4 L637.8 329.7 L637.1 330.7 L636.3 331.4 L635.3 331.9 L635.3 331.9 L632.3 333.0" fill="#fff" stroke="#000" stroke-width="2.24" stroke-linejoin="round" stroke-linecap="round" />
<ellipse cx="628.3" cy="321.7" rx="6.8" ry="12.0" transform="rotate(-19.5 628.3 321.7)" fill="#fff" stroke="#000" stroke-width="2.24"/>
<ellipse cx="628.3" cy="321.7" rx="5.0" ry="9.0" transform="rotate(-19.5 628.3 321.7)" fill="none" stroke="#000" stroke-width="1.46"/>
<ellipse cx="628.3" cy="321.7" rx="3.4" ry="6.2" transform="rotate(-19.5 628.3 321.7)" fill="none" stroke="#000" stroke-width="1.79"/>
<ellipse cx="628.3" cy="321.7" rx="1.9" ry="3.4" transform="rotate(-19.5 628.3 321.7)" fill="#000" stroke="#000" stroke-width="1.57"/>
<circle cx="628.3" cy="321.7" r="0.9" fill="#fff"/>
<path d="M678.8 383.7 L723.1 368.1 L723.1 368.1 L723.8 367.9 L724.6 368.0 L725.4 368.3 L726.2 368.8 L727.0 369.5 L727.8 370.3 L728.5 371.3 L729.2 372.5 L729.8 373.7 L730.3 375.0 L730.8 376.4 L731.1 377.7 L731.2 379.1 L731.3 380.3 L731.2 381.5 L731.0 382.5 L730.7 383.4 L730.3 384.1 L729.7 384.7 L729.1 385.0 L729.1 385.0 L684.8 400.7" fill="#fff" stroke="#000" stroke-width="2.02" stroke-linejoin="round" stroke-linecap="round" />
<ellipse cx="681.8" cy="392.2" rx="4.5" ry="9.0" transform="rotate(-19.5 681.8 392.2)" fill="#fff" stroke="#000" stroke-width="2.02"/>
<path d="M674.3 389.0 L680.9 386.7 L680.9 386.7 L681.3 386.6 L681.8 386.7 L682.3 386.9 L682.8 387.2 L683.3 387.6 L683.8 388.1 L684.2 388.7 L684.6 389.4 L685.0 390.2 L685.3 391.0 L685.6 391.8 L685.8 392.6 L685.9 393.4 L685.9 394.2 L685.9 394.9 L685.7 395.5 L685.6 396.1 L685.3 396.5 L685.0 396.9 L684.6 397.1 L684.6 397.1 L678.0 399.4" fill="#fff" stroke="#000" stroke-width="1.57" stroke-linejoin="round" stroke-linecap="round" />
<ellipse cx="676.1" cy="394.2" rx="2.8" ry="5.5" transform="rotate(-19.5 676.1 394.2)" fill="#fff" stroke="#000" stroke-width="1.57"/>
<path d="M669.4 385.8 L673.9 384.9 L673.9 384.9 L674.7 384.8 L675.6 384.8 L676.5 385.1 L677.4 385.6 L678.3 386.3 L679.2 387.2 L680.0 388.3 L680.8 389.5 L681.5 390.8 L682.0 392.2 L682.4 393.6 L682.7 395.0 L682.9 396.4 L682.9 397.7 L682.8 399.0 L682.5 400.1 L682.1 401.1 L681.6 401.9 L681.0 402.5 L680.3 402.9 L680.3 402.9 L676.2 405.0" fill="#fff" stroke="#000" stroke-width="1.79" stroke-linejoin="round" stroke-linecap="round" />
<ellipse cx="672.8" cy="395.4" rx="5.6" ry="10.2" transform="rotate(-19.5 672.8 395.4)" fill="#fff" stroke="#000" stroke-width="1.79"/>
<path d="M664.6 385.6 L667.6 384.5 L667.6 384.5 L668.7 384.3 L669.8 384.4 L671.0 384.7 L672.2 385.3 L673.3 386.2 L674.5 387.3 L675.5 388.7 L676.5 390.2 L677.4 391.8 L678.1 393.5 L678.6 395.3 L679.0 397.2 L679.2 398.9 L679.2 400.6 L679.0 402.2 L678.6 403.6 L678.1 404.9 L677.4 405.9 L676.6 406.6 L675.6 407.1 L675.6 407.1 L672.6 408.2" fill="#fff" stroke="#000" stroke-width="2.24" stroke-linejoin="round" stroke-linecap="round" />
<ellipse cx="668.6" cy="396.9" rx="6.8" ry="12.0" transform="rotate(-19.5 668.6 396.9)" fill="#fff" stroke="#000" stroke-width="2.24"/>
<ellipse cx="668.6" cy="396.9" rx="5.0" ry="9.0" transform="rotate(-19.5 668.6 396.9)" fill="none" stroke="#000" stroke-width="1.46"/>
<ellipse cx="668.6" cy="396.9" rx="3.4" ry="6.2" transform="rotate(-19.5 668.6 396.9)" fill="none" stroke="#000" stroke-width="1.79"/>
<ellipse cx="668.6" cy="396.9" rx="1.9" ry="3.4" transform="rotate(-19.5 668.6 396.9)" fill="#000" stroke="#000" stroke-width="1.57"/>
<circle cx="668.6" cy="396.9" r="0.9" fill="#fff"/>
<path d="M656.4 313.9 L700.7 298.3 L700.7 298.3 L701.4 298.1 L702.2 298.2 L703.0 298.5 L703.8 299.0 L704.6 299.7 L705.4 300.5 L706.1 301.5 L706.8 302.7 L707.4 303.9 L707.9 305.2 L708.4 306.6 L708.7 307.9 L708.8 309.3 L708.9 310.5 L708.8 311.7 L708.6 312.7 L708.3 313.6 L707.9 314.3 L707.3 314.9 L706.7 315.2 L706.7 315.2 L662.4 330.9" fill="#fff" stroke="#000" stroke-width="2.02" stroke-linejoin="round" stroke-linecap="round" />
<ellipse cx="659.4" cy="322.4" rx="4.5" ry="9.0" transform="rotate(-19.5 659.4 322.4)" fill="#fff" stroke="#000" stroke-width="2.02"/>
<path d="M651.9 319.2 L658.5 316.9 L658.5 316.9 L658.9 316.8 L659.4 316.9 L659.9 317.1 L660.4 317.4 L660.9 317.8 L661.4 318.3 L661.8 318.9 L662.2 319.6 L662.6 320.4 L662.9 321.2 L663.2 322.0 L663.4 322.8 L663.5 323.6 L663.5 324.4 L663.5 325.1 L663.3 325.7 L663.2 326.3 L662.9 326.7 L662.6 327.1 L662.2 327.3 L662.2 327.3 L655.6 329.6" fill="#fff" stroke="#000" stroke-width="1.57" stroke-linejoin="round" stroke-linecap="round" />
<ellipse cx="653.7" cy="324.4" rx="2.8" ry="5.5" transform="rotate(-19.5 653.7 324.4)" fill="#fff" stroke="#000" stroke-width="1.57"/>
<path d="M647.0 316.0 L651.5 315.1 L651.5 315.1 L652.3 315.0 L653.2 315.0 L654.1 315.3 L655.0 315.8 L655.9 316.5 L656.8 317.4 L657.6 318.5 L658.4 319.7 L659.1 321.0 L659.6 322.4 L660.0 323.8 L660.3 325.2 L660.5 326.6 L660.5 327.9 L660.4 329.2 L660.1 330.3 L659.7 331.3 L659.2 332.1 L658.6 332.7 L657.9 333.1 L657.9 333.1 L653.8 335.2" fill="#fff" stroke="#000" stroke-width="1.79" stroke-linejoin="round" stroke-linecap="round" />
<ellipse cx="650.4" cy="325.6" rx="5.6" ry="10.2" transform="rotate(-19.5 650.4 325.6)" fill="#fff" stroke="#000" stroke-width="1.79"/>
<path d="M642.2 315.8 L645.2 314.7 L645.2 314.7 L646.3 314.5 L647.4 314.6 L648.6 314.9 L649.8 315.5 L650.9 316.4 L652.1 317.5 L653.1 318.9 L654.1 320.4 L655.0 322.0 L655.7 323.7 L656.2 325.5 L656.6 327.4 L656.8 329.1 L656.8 330.8 L656.6 332.4 L656.2 333.8 L655.7 335.1 L655.0 336.1 L654.2 336.8 L653.2 337.3 L653.2 337.3 L650.2 338.4" fill="#fff" stroke="#000" stroke-width="2.24" stroke-linejoin="round" stroke-linecap="round" />
<ellipse cx="646.2" cy="327.1" rx="6.8" ry="12.0" transform="rotate(-19.5 646.2 327.1)" fill="#fff" stroke="#000" stroke-width="2.24"/>
<ellipse cx="646.2" cy="327.1" rx="5.0" ry="9.0" transform="rotate(-19.5 646.2 327.1)" fill="none" stroke="#000" stroke-width="1.46"/>
<ellipse cx="646.2" cy="327.1" rx="3.4" ry="6.2" transform="rotate(-19.5 646.2 327.1)" fill="none" stroke="#000" stroke-width="1.79"/>
<ellipse cx="646.2" cy="327.1" rx="1.9" ry="3.4" transform="rotate(-19.5 646.2 327.1)" fill="#000" stroke="#000" stroke-width="1.57"/>
<circle cx="646.2" cy="327.1" r="0.9" fill="#fff"/>
<path d="M674.3 334.5 L718.6 318.9 L718.6 318.9 L719.3 318.7 L720.1 318.8 L720.9 319.1 L721.7 319.6 L722.5 320.3 L723.3 321.1 L724.0 322.1 L724.7 323.3 L725.3 324.5 L725.8 325.8 L726.3 327.2 L726.6 328.5 L726.7 329.9 L726.8 331.1 L726.7 332.3 L726.5 333.3 L726.2 334.2 L725.8 334.9 L725.2 335.5 L724.6 335.8 L724.6 335.8 L680.3 351.5" fill="#fff" stroke="#000" stroke-width="2.02" stroke-linejoin="round" stroke-linecap="round" />
<ellipse cx="677.3" cy="343.0" rx="4.5" ry="9.0" transform="rotate(-19.5 677.3 343.0)" fill="#fff" stroke="#000" stroke-width="2.02"/>
<path d="M669.8 339.8 L676.4 337.5 L676.4 337.5 L676.8 337.4 L677.3 337.5 L677.8 337.7 L678.3 338.0 L678.8 338.4 L679.3 338.9 L679.7 339.5 L680.1 340.2 L680.5 341.0 L680.8 341.8 L681.1 342.6 L681.3 343.4 L681.4 344.2 L681.4 345.0 L681.4 345.7 L681.2 346.3 L681.1 346.9 L680.8 347.3 L680.5 347.7 L680.1 347.9 L680.1 347.9 L673.5 350.2" fill="#fff" stroke="#000" stroke-width="1.57" stroke-linejoin="round" stroke-linecap="round" />
<ellipse cx="671.6" cy="345.0" rx="2.8" ry="5.5" transform="rotate(-19.5 671.6 345.0)" fill="#fff" stroke="#000" stroke-width="1.57"/>
<path d="M664.9 336.6 L669.4 335.7 L669.4 335.7 L670.2 335.6 L671.1 335.6 L672.0 335.9 L672.9 336.4 L673.8 337.1 L674.7 338.0 L675.5 339.1 L676.3 340.3 L677.0 341.6 L677.5 343.0 L677.9 344.4 L678.2 345.8 L678.4 347.2 L678.4 348.5 L678.3 349.8 L678.0 350.9 L677.6 351.9 L677.1 352.7 L676.5 353.3 L675.8 353.7 L675.8 353.7 L671.7 355.8" fill="#fff" stroke="#000" stroke-width="1.79" stroke-linejoin="round" stroke-linecap="round" />
<ellipse cx="668.3" cy="346.2" rx="5.6" ry="10.2" transform="rotate(-19.5 668.3 346.2)" fill="#fff" stroke="#000" stroke-width="1.79"/>
<path d="M660.1 336.4 L663.1 335.3 L663.1 335.3 L664.2 335.1 L665.3 335.2 L666.5 335.5 L667.7 336.1 L668.8 337.0 L670.0 338.1 L671.0 339.5 L672.0 341.0 L672.9 342.6 L673.6 344.3 L674.1 346.1 L674.5 348.0 L674.7 349.7 L674.7 351.4 L674.5 353.0 L674.1 354.4 L673.6 355.7 L672.9 356.7 L672.1 357.4 L671.1 357.9 L671.1 357.9 L668.1 359.0" fill="#fff" stroke="#000" stroke-width="2.24" stroke-linejoin="round" stroke-linecap="round" />
<ellipse cx="664.1" cy="347.7" rx="6.8" ry="12.0" transform="rotate(-19.5 664.1 347.7)" fill="#fff" stroke="#000" stroke-width="2.24"/>
<ellipse cx="664.1" cy="347.7" rx="5.0" ry="9.0" transform="rotate(-19.5 664.1 347.7)" fill="none" stroke="#000" stroke-width="1.46"/>
<ellipse cx="664.1" cy="347.7" rx="3.4" ry="6.2" transform="rotate(-19.5 664.1 347.7)" fill="none" stroke="#000" stroke-width="1.79"/>
<ellipse cx="664.1" cy="347.7" rx="1.9" ry="3.4" transform="rotate(-19.5 664.1 347.7)" fill="#000" stroke="#000" stroke-width="1.57"/>
<circle cx="664.1" cy="347.7" r="0.9" fill="#fff"/>
<path d="M685.0 360.4 L729.3 344.8 L729.3 344.8 L730.0 344.6 L730.8 344.7 L731.6 345.0 L732.4 345.5 L733.2 346.2 L734.0 347.0 L734.7 348.0 L735.4 349.2 L736.0 350.4 L736.5 351.7 L737.0 353.1 L737.3 354.4 L737.4 355.8 L737.5 357.0 L737.4 358.2 L737.2 359.2 L736.9 360.1 L736.5 360.8 L735.9 361.4 L735.3 361.7 L735.3 361.7 L691.0 377.4" fill="#fff" stroke="#000" stroke-width="2.02" stroke-linejoin="round" stroke-linecap="round" />
<ellipse cx="688.0" cy="368.9" rx="4.5" ry="9.0" transform="rotate(-19.5 688.0 368.9)" fill="#fff" stroke="#000" stroke-width="2.02"/>
<path d="M680.5 365.7 L687.1 363.4 L687.1 363.4 L687.5 363.3 L688.0 363.4 L688.5 363.6 L689.0 363.9 L689.5 364.3 L690.0 364.8 L690.4 365.4 L690.8 366.1 L691.2 366.9 L691.5 367.7 L691.8 368.5 L692.0 369.3 L692.1 370.1 L692.1 370.9 L692.1 371.6 L691.9 372.2 L691.8 372.8 L691.5 373.2 L691.2 373.6 L690.8 373.8 L690.8 373.8 L684.2 376.1" fill="#fff" stroke="#000" stroke-width="1.57" stroke-linejoin="round" stroke-linecap="round" />
<ellipse cx="682.3" cy="370.9" rx="2.8" ry="5.5" transform="rotate(-19.5 682.3 370.9)" fill="#fff" stroke="#000" stroke-width="1.57"/>
<path d="M675.6 362.5 L680.1 361.6 L680.1 361.6 L680.9 361.5 L681.8 361.5 L682.7 361.8 L683.6 362.3 L684.5 363.0 L685.4 363.9 L686.2 365.0 L687.0 366.2 L687.7 367.5 L688.2 368.9 L688.6 370.3 L688.9 371.7 L689.1 373.1 L689.1 374.4 L689.0 375.7 L688.7 376.8 L688.3 377.8 L687.8 378.6 L687.2 379.2 L686.5 379.6 L686.5 379.6 L682.4 381.7" fill="#fff" stroke="#000" stroke-width="1.79" stroke-linejoin="round" stroke-linecap="round" />
<ellipse cx="679.0" cy="372.1" rx="5.6" ry="10.2" transform="rotate(-19.5 679.0 372.1)" fill="#fff" stroke="#000" stroke-width="1.79"/>
<path d="M670.8 362.3 L673.8 361.2 L673.8 361.2 L674.9 361.0 L676.0 361.1 L677.2 361.4 L678.4 362.0 L679.5 362.9 L680.7 364.0 L681.7 365.4 L682.7 366.9 L683.6 368.5 L684.3 370.2 L684.8 372.0 L685.2 373.9 L685.4 375.6 L685.4 377.3 L685.2 378.9 L684.8 380.3 L684.3 381.6 L683.6 382.6 L682.8 383.3 L681.8 383.8 L681.8 383.8 L678.8 384.9" fill="#fff" stroke="#000" stroke-width="2.24" stroke-linejoin="round" stroke-linecap="round" />
<ellipse cx="674.8" cy="373.6" rx="6.8" ry="12.0" transform="rotate(-19.5 674.8 373.6)" fill="#fff" stroke="#000" stroke-width="2.24"/>
<ellipse cx="674.8" cy="373.6" rx="5.0" ry="9.0" transform="rotate(-19.5 674.8 373.6)" fill="none" stroke="#000" stroke-width="1.46"/>
<ellipse cx="674.8" cy="373.6" rx="3.4" ry="6.2" transform="rotate(-19.5 674.8 373.6)" fill="none" stroke="#000" stroke-width="1.79"/>
<ellipse cx="674.8" cy="373.6" rx="1.9" ry="3.4" transform="rotate(-19.5 674.8 373.6)" fill="#000" stroke="#000" stroke-width="1.57"/>
<circle cx="674.8" cy="373.6" r="0.9" fill="#fff"/>
<path d="M130.8 411.8 L146.3 404.2 L163.6 395.9 L175.7 393.8 L186.0 398.0 L225.7 418.7 L234.7 423.2" fill="none" stroke="#000" stroke-width="1.85" stroke-dasharray="9 3.5 3 3.5" stroke-linejoin="round" stroke-linecap="round" />
<path d="M234.7 423.2 L267.2 439.4 L300.0 462.9" fill="none" stroke="#000" stroke-width="1.85" stroke-linejoin="round" stroke-linecap="round" />
<path d="M130.8 411.8 C129.9 415.1 126.9 425.3 125.6 431.8 C124.3 438.3 123.1 445.3 122.8 450.8 C122.6 456.3 123.2 461.0 124.2 464.6 C125.3 468.2 126.8 470.8 129.1 472.5 C131.3 474.3 136.3 474.8 137.7 475.3" fill="none" stroke="#000" stroke-width="1.85" stroke-dasharray="9 3.5 3 3.5" stroke-linejoin="round" stroke-linecap="round"/>
<path d="M132.5 411.8 L170.5 431.1 L179.1 435.9" fill="none" stroke="#000" stroke-width="1.85" stroke-linejoin="round" stroke-linecap="round" />
<path d="M170.5 431.1 L179.1 419.7" fill="none" stroke="#000" stroke-width="1.85" stroke-linejoin="round" stroke-linecap="round" />
<path d="M159.4 401.4 L156.7 407.6 L177.4 417.3 L181.5 412.8" fill="none" stroke="#000" stroke-width="1.85" stroke-dasharray="9 3.5 3 3.5" stroke-linejoin="round" stroke-linecap="round" />
<path d="M157.4 409.0 L176.7 418.0" fill="none" stroke="#000" stroke-width="2.24" stroke-linejoin="round" stroke-linecap="round" />
<path d="M179.1 424.2 C179.8 422.8 182.1 420.1 185.0 419.7 C187.9 419.4 195.1 420.7 196.4 422.1 C197.7 423.6 195.5 427.3 192.9 428.3 C190.4 429.4 183.2 429.0 180.9 428.3 C178.6 427.7 178.4 425.6 179.1 424.2 Z" fill="none" stroke="#000" stroke-width="1.85" stroke-dasharray="9 3.5 3 3.5" stroke-linejoin="round" stroke-linecap="round"/>
<path d="M184.3 437.0 L198.1 431.8 L222.3 443.9" fill="none" stroke="#000" stroke-width="1.85" stroke-dasharray="9 3.5 3 3.5" stroke-linejoin="round" stroke-linecap="round" />
<path d="M196.4 431.8 L225.7 445.6" fill="none" stroke="#000" stroke-width="1.34" stroke-dasharray="9 3.5 3 3.5" stroke-linejoin="round" stroke-linecap="round" />
<path d="M186.0 438.7 L211.9 450.8 L217.1 461.1" fill="none" stroke="#000" stroke-width="1.85" stroke-dasharray="9 3.5 3 3.5" stroke-linejoin="round" stroke-linecap="round" />
<path d="M229.2 431.8 C230.3 429.9 235.8 426.6 239.6 426.6 C243.3 426.6 250.5 429.8 251.6 431.8 C252.8 433.8 249.6 437.7 246.5 438.7 C243.3 439.7 235.5 439.2 232.7 438.0 C229.8 436.9 228.0 433.7 229.2 431.8 Z" fill="none" stroke="#000" stroke-width="1.85" stroke-dasharray="9 3.5 3 3.5" stroke-linejoin="round" stroke-linecap="round"/>
<path d="M222.3 443.9 L253.4 438.0 L267.2 442.2" fill="none" stroke="#000" stroke-width="1.85" stroke-dasharray="9 3.5 3 3.5" stroke-linejoin="round" stroke-linecap="round" />
<path d="M134.2 453.2 L144.6 457.7" fill="none" stroke="#000" stroke-width="1.85" stroke-linejoin="round" stroke-linecap="round" />
<path d="M150.5 451.8 L142.9 470.5" fill="none" stroke="#000" stroke-width="1.85" stroke-linejoin="round" stroke-linecap="round" />
<path d="M191.2 471.5 C190.1 472.9 185.9 476.7 184.3 480.1 C182.7 483.6 181.3 489.1 181.5 492.2 C181.8 495.4 185.3 498.0 186.0 499.1" fill="none" stroke="#000" stroke-width="1.85" stroke-dasharray="9 3.5 3 3.5" stroke-linejoin="round" stroke-linecap="round"/>
<path d="M192.9 483.6 L205.0 489.8" fill="none" stroke="#000" stroke-width="1.85" stroke-dasharray="9 3.5 3 3.5" stroke-linejoin="round" stroke-linecap="round" />
<path d="M217.1 461.1 L263.7 442.8 L268.2 466.3 L263.7 499.1 L222.3 517.4 L211.9 494.0 Z" fill="none" stroke="#000" stroke-width="1.85" stroke-dasharray="9 3.5 3 3.5" stroke-linejoin="round" stroke-linecap="round" />
<path d="M222.3 483.6 C222.4 478.4 222.4 470.8 224.4 466.3 C226.4 461.8 230.4 458.7 234.4 456.7 C238.3 454.6 244.3 453.1 248.2 453.9 C252.0 454.6 255.5 457.1 257.5 461.1 C259.5 465.2 260.7 472.7 260.3 478.4 C259.9 484.2 258.0 491.1 255.1 495.7 C252.2 500.3 247.0 504.1 243.0 506.0 C239.0 507.9 234.1 508.5 230.9 507.1 C227.7 505.6 225.1 501.3 223.7 497.4 C222.2 493.5 222.2 488.8 222.3 483.6 Z" fill="none" stroke="#000" stroke-width="1.85" stroke-dasharray="9 3.5 3 3.5" stroke-linejoin="round" stroke-linecap="round"/>
<path d="M219.5 489.8 L232.7 470.5" fill="none" stroke="#000" stroke-width="1.46" stroke-linejoin="round" stroke-linecap="round" />
<path d="M222.3 493.3 L239.6 480.1" fill="none" stroke="#000" stroke-width="1.46" stroke-linejoin="round" stroke-linecap="round" />
<path d="M229.2 460.1 L225.7 475.0" fill="none" stroke="#000" stroke-width="1.46" stroke-linejoin="round" stroke-linecap="round" />
<ellipse cx="222.3" cy="463.9" rx="2.2" ry="2.8" fill="none" stroke="#000" stroke-width="1.3"/>
<ellipse cx="255.1" cy="451.5" rx="2.2" ry="2.8" fill="none" stroke="#000" stroke-width="1.3"/>
<ellipse cx="258.9" cy="499.8" rx="2.2" ry="2.8" fill="none" stroke="#000" stroke-width="1.3"/>
<ellipse cx="225.1" cy="512.9" rx="2.2" ry="2.8" fill="none" stroke="#000" stroke-width="1.3"/>
<path d="M274.8 478.4 C275.6 475.9 278.5 473.3 281.0 472.5 C283.5 471.8 288.0 472.1 289.6 473.9 C291.2 475.8 292.1 480.7 290.7 483.6 C289.2 486.5 283.5 490.5 281.0 491.2 C278.5 491.9 276.9 489.9 275.8 487.7 C274.8 485.6 273.9 480.9 274.8 478.4 Z" fill="none" stroke="#000" stroke-width="1.79" stroke-linejoin="round" stroke-linecap="round"/>
<path d="M278.2 480.8 C278.7 479.2 282.4 476.9 283.8 477.4 C285.1 477.8 286.6 482.0 286.2 483.6 C285.7 485.2 282.3 487.5 281.0 487.0 C279.7 486.6 277.8 482.4 278.2 480.8 Z" fill="none" stroke="#000" stroke-width="2.46" stroke-linejoin="round" stroke-linecap="round"/>
<path d="M267.2 473.9 L275.8 478.4" fill="none" stroke="#000" stroke-width="1.85" stroke-dasharray="9 3.5 3 3.5" stroke-linejoin="round" stroke-linecap="round" />
<path d="M300.0 462.9 L303.8 494.0 L309.3 531.9" fill="none" stroke="#000" stroke-width="1.85" stroke-dasharray="9 3.5 3 3.5" stroke-linejoin="round" stroke-linecap="round" />
<path d="M291.4 485.3 L298.3 531.9" fill="none" stroke="#000" stroke-width="1.85" stroke-dasharray="9 3.5 3 3.5" stroke-linejoin="round" stroke-linecap="round" />
<path d="M286.2 495.7 L290.7 531.9" fill="none" stroke="#000" stroke-width="1.85" stroke-dasharray="9 3.5 3 3.5" stroke-linejoin="round" stroke-linecap="round" />
<path d="M267.2 473.2 L271.3 494.0" fill="none" stroke="#000" stroke-width="1.46" stroke-dasharray="9 3.5 3 3.5" stroke-linejoin="round" stroke-linecap="round" />
<path d="M294.8 533.7 L315.5 529.2 L317.3 560.2 L298.3 566.5" fill="none" stroke="#000" stroke-width="1.79" stroke-linejoin="round" stroke-linecap="round" />
<path d="M294.8 533.7 L292.0 552.7 L298.3 566.5" fill="none" stroke="#000" stroke-width="1.85" stroke-dasharray="9 3.5 3 3.5" stroke-linejoin="round" stroke-linecap="round" />
<path d="M301.7 542.3 C303.3 540.6 307.3 538.7 309.3 539.5 C311.3 540.4 313.6 544.6 313.8 547.5 C314.0 550.3 312.2 555.1 310.3 556.8 C308.4 558.5 304.1 559.0 302.4 557.8 C300.7 556.7 300.1 552.5 300.0 549.9 C299.9 547.3 300.2 544.0 301.7 542.3 Z" fill="none" stroke="#000" stroke-width="1.85" stroke-dasharray="9 3.5 3 3.5" stroke-linejoin="round" stroke-linecap="round"/>
<path d="M304.5 547.5 C305.2 546.2 308.4 545.0 309.3 545.7 C310.2 546.5 310.7 550.7 310.0 552.0 C309.3 553.2 306.1 554.1 305.2 553.3 C304.2 552.6 303.8 548.7 304.5 547.5 Z" fill="none" stroke="#000" stroke-width="1.85" stroke-linejoin="round" stroke-linecap="round"/>
<path d="M211.9 563.7 L290.7 538.1" fill="none" stroke="#000" stroke-width="1.79" stroke-linejoin="round" stroke-linecap="round" />
<path d="M213.7 568.2 L292.0 542.3" fill="none" stroke="#000" stroke-width="1.46" stroke-dasharray="10 3" stroke-linejoin="round" stroke-linecap="round" />
<path d="M211.9 563.7 L211.9 581.0 L202.3 584.4 L201.6 573.4" fill="none" stroke="#000" stroke-width="1.79" stroke-linejoin="round" stroke-linecap="round" />
<path d="M211.9 594.1 L303.4 567.2" fill="none" stroke="#000" stroke-width="1.85" stroke-dasharray="9 3.5 3 3.5" stroke-linejoin="round" stroke-linecap="round" />
<path d="M218.8 629.3 L301.7 601.7" fill="none" stroke="#000" stroke-width="1.85" stroke-dasharray="9 3.5 3 3.5" stroke-linejoin="round" stroke-linecap="round" />
<path d="M218.8 629.3 L209.2 622.4" fill="none" stroke="#000" stroke-width="1.85" stroke-linejoin="round" stroke-linecap="round" />
<path d="M308.6 563.7 L303.4 601.7" fill="none" stroke="#000" stroke-width="1.85" stroke-dasharray="9 3.5 3 3.5" stroke-linejoin="round" stroke-linecap="round" />
<path d="M211.9 581.0 L213.7 604.4 L218.8 629.3" fill="none" stroke="#000" stroke-width="1.85" stroke-dasharray="9 3.5 3 3.5" stroke-linejoin="round" stroke-linecap="round" />
<path d="M276.9 583.7 C277.9 580.7 281.5 577.8 284.4 577.5 C287.4 577.2 293.0 579.5 294.8 582.0 C296.6 584.5 296.6 589.5 295.5 592.4 C294.3 595.2 290.8 598.7 287.9 599.3 C285.0 599.8 280.1 598.4 278.2 595.8 C276.4 593.2 275.8 586.8 276.9 583.7 Z" fill="none" stroke="#000" stroke-width="1.85" stroke-dasharray="9 3.5 3 3.5" stroke-linejoin="round" stroke-linecap="round"/>
<path d="M281.0 586.5 C281.6 584.5 284.8 582.2 286.5 582.3 C288.2 582.5 291.0 585.2 291.4 587.2 C291.7 589.1 290.0 592.9 288.6 594.1 C287.2 595.2 284.0 595.4 282.7 594.1 C281.5 592.8 280.4 588.4 281.0 586.5 Z" fill="none" stroke="#000" stroke-width="1.85" stroke-linejoin="round" stroke-linecap="round"/>
<path d="M98.0 473.9 L110.1 469.8 L130.8 480.8" fill="none" stroke="#000" stroke-width="1.85" stroke-dasharray="9 3.5 3 3.5" stroke-linejoin="round" stroke-linecap="round" />
<path d="M111.8 473.2 L150.5 491.2 L180.9 506.4 L198.1 518.8" fill="none" stroke="#000" stroke-width="1.85" stroke-dasharray="9 3.5 3 3.5" stroke-linejoin="round" stroke-linecap="round" />
<path d="M139.4 489.8 C139.0 488.1 145.2 485.3 148.1 485.3 C150.9 485.3 156.3 488.1 156.7 489.8 C157.1 491.5 153.3 495.7 150.5 495.7 C147.6 495.7 139.8 491.5 139.4 489.8 Z" fill="none" stroke="#000" stroke-width="1.85" stroke-dasharray="9 3.5 3 3.5" stroke-linejoin="round" stroke-linecap="round"/>
<path d="M98.7 473.9 C99.4 475.8 103.9 482.4 103.2 485.3 C102.5 488.2 97.2 490.8 94.5 491.2 C91.8 491.6 88.2 488.3 86.9 487.7" fill="none" stroke="#000" stroke-width="1.85" stroke-dasharray="9 3.5 3 3.5" stroke-linejoin="round" stroke-linecap="round"/>
<path d="M90.4 494.0 C88.7 495.8 82.2 500.4 80.0 505.0 C77.8 509.6 76.7 516.8 77.3 521.6 C77.8 526.4 81.1 531.8 83.5 533.7 C85.9 535.5 90.4 532.8 91.8 532.6" fill="none" stroke="#000" stroke-width="1.85" stroke-dasharray="9 3.5 3 3.5" stroke-linejoin="round" stroke-linecap="round"/>
<path d="M91.8 532.6 L87.6 539.5 L81.4 537.1" fill="none" stroke="#000" stroke-width="1.85" stroke-dasharray="9 3.5 3 3.5" stroke-linejoin="round" stroke-linecap="round" />
<path d="M82.4 538.1 L101.4 590.6" fill="none" stroke="#000" stroke-width="1.85" stroke-dasharray="9 3.5 3 3.5" stroke-linejoin="round" stroke-linecap="round" />
<path d="M101.4 590.6 L104.2 601.7 L111.1 596.9 L107.7 591.3" fill="none" stroke="#000" stroke-width="1.85" stroke-linejoin="round" stroke-linecap="round" />
<path d="M104.2 601.7 L179.1 642.4" fill="none" stroke="#000" stroke-width="1.85" stroke-dasharray="9 3.5 3 3.5" stroke-linejoin="round" stroke-linecap="round" />
<path d="M179.1 642.4 L191.2 648.3 L199.8 644.5 L198.1 637.6 L188.5 635.5" fill="none" stroke="#000" stroke-width="1.79" stroke-linejoin="round" stroke-linecap="round" />
<path d="M191.2 648.3 L190.5 641.7" fill="none" stroke="#000" stroke-width="1.46" stroke-linejoin="round" stroke-linecap="round" />
<path d="M149.1 502.6 L191.2 525.0" fill="none" stroke="#000" stroke-width="1.68" stroke-linejoin="round" stroke-linecap="round" />
<path d="M179.1 498.1 L187.1 491.2 L195.4 495.7" fill="none" stroke="#000" stroke-width="1.85" stroke-dasharray="9 3.5 3 3.5" stroke-linejoin="round" stroke-linecap="round" />
<path d="M179.1 498.1 L195.4 518.8 L196.7 528.5 L188.5 532.6 L191.9 546.4 L202.3 552.7" fill="none" stroke="#000" stroke-width="1.85" stroke-dasharray="9 3.5 3 3.5" stroke-linejoin="round" stroke-linecap="round" />
<path d="M180.9 531.9 L179.1 539.5 L192.9 546.4" fill="none" stroke="#000" stroke-width="1.68" stroke-linejoin="round" stroke-linecap="round" />
<path d="M202.3 552.7 L198.8 566.5 L205.7 572.0 L202.3 587.2 L188.5 591.3 L186.4 598.2 L191.9 601.7 L208.5 601.7 L212.6 608.6 L198.8 618.3 L191.9 629.3 L181.5 636.2" fill="none" stroke="#000" stroke-width="1.85" stroke-dasharray="9 3.5 3 3.5" stroke-linejoin="round" stroke-linecap="round" />
<path d="M198.1 518.8 L202.3 529.2 L211.9 533.7 L219.5 542.3 L217.5 528.5" fill="none" stroke="#000" stroke-width="1.85" stroke-dasharray="9 3.5 3 3.5" stroke-linejoin="round" stroke-linecap="round" />
<path d="M198.8 542.3 L211.9 549.2 L211.9 563.0" fill="none" stroke="#000" stroke-width="1.85" stroke-dasharray="9 3.5 3 3.5" stroke-linejoin="round" stroke-linecap="round" />
<ellipse cx="136.7" cy="559.6" rx="31.0" ry="57.0" transform="rotate(-20.7 136.7 559.6)" fill="none" stroke="#000" stroke-width="1.68" stroke-dasharray="9 3.5 3 3.5"/>
<path d="M124.0 591.1 L119.8 585.0 L116.0 578.3 L112.8 571.2 L110.1 563.7 L108.1 556.2 L106.8 548.7 L106.2 541.5 L106.4 534.8 L107.4 528.7 L109.1 523.3 L111.5 518.9 L114.5 515.5 L118.1 513.1 L122.2 512.0 L126.6 512.0 L131.2 513.2 L136.0 515.6 L140.8 519.1 L145.5 523.6 L150.0 529.0 L154.1 535.2 L157.9 541.9 L161.0 549.1 L163.6 556.6 L165.5 564.2 L166.7 571.6 L167.1 578.7" fill="none" stroke="#000" stroke-width="1.79" stroke-linejoin="round" stroke-linecap="round" />
<path d="M120.8 582.7 L117.2 576.2 L114.1 569.2 L111.6 562.0 L109.8 554.7 L108.7 547.6 L108.4 540.7 L108.7 534.4 L109.8 528.7 L111.7 523.8 L114.2 519.9 L117.3 517.1 L120.9 515.3 L124.9 514.7 L129.2 515.4 L133.7 517.2" fill="none" stroke="#000" stroke-width="1.46" stroke-linejoin="round" stroke-linecap="round" />
<path d="M123.6 572.3 L120.9 566.0 L118.7 559.5 L117.1 552.9 L116.1 546.5 L115.8 540.4 L116.1 534.8 L117.1 529.8 L118.7 525.6 L120.9 522.2 L123.6 519.8 L126.8 518.5 L130.3 518.2 L134.1 519.0 L138.1 520.8 L142.2 523.7 L146.2 527.5 L150.0 532.1" fill="none" stroke="#000" stroke-width="1.57" stroke-dasharray="8 3" stroke-linejoin="round" stroke-linecap="round" />
<path d="M136.7 522.4 L139.9 523.7 L143.3 525.9 L146.6 528.8 L149.9 532.5 L152.9 536.7 L155.8 541.4 L158.3 546.6 L160.5 551.9 L162.2 557.4 L163.5 562.9 L164.3 568.3 L164.5 573.4 L164.3 578.1 L163.5 582.2 L162.2 585.8 L160.4 588.6 L158.2 590.7 L155.7 591.9 L152.8 592.3 L149.7 591.8" fill="none" stroke="#000" stroke-width="1.57" stroke-dasharray="9 3 3 3" stroke-linejoin="round" stroke-linecap="round" />
<path d="M167.6 562.9 L168.4 568.9 L168.5 574.6 L168.1 579.9 L167.1 584.6 L165.5 588.5 L163.3 591.7 L160.7 594.0 L157.7 595.4 L154.3 595.8 L150.7 595.2 L146.9 593.7" fill="none" stroke="#000" stroke-width="1.57" stroke-linejoin="round" stroke-linecap="round" />
<path d="M149.0 513.0 L154.8 519.3 L160.2 526.7 L165.0 534.9 L169.1 543.8 L172.5 553.0 L174.9 562.4 L176.4 571.7 L177.0 580.7 L176.5 589.0 L175.0 596.7 L172.6 603.3 L169.4 608.8 L165.3 613.0" fill="none" stroke="#000" stroke-width="1.46" stroke-dasharray="9 3.5 3 3.5" stroke-linejoin="round" stroke-linecap="round" />
</svg>
</body></html>
